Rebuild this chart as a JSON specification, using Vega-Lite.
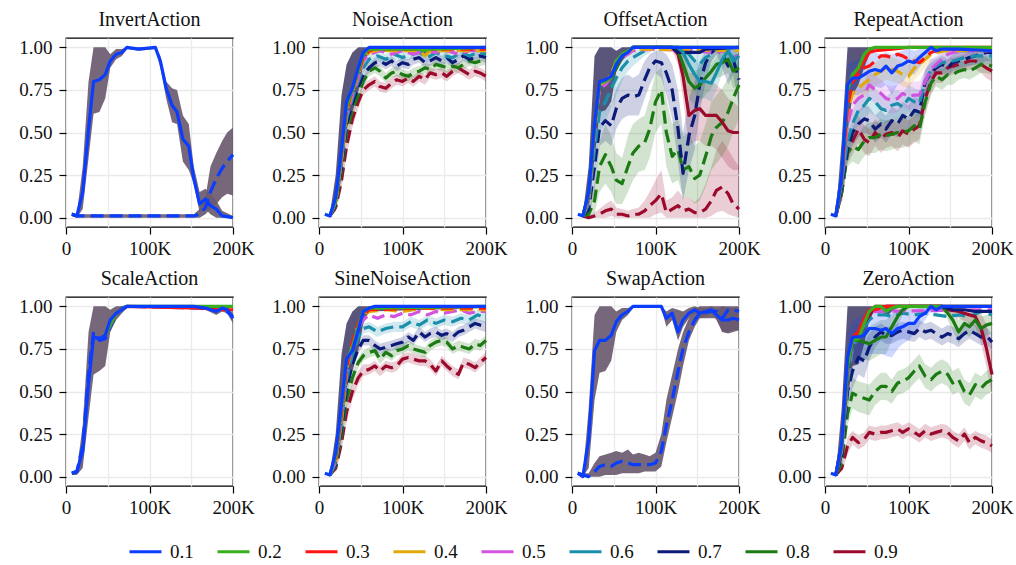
{
"$schema":"https://vega.github.io/schema/vega-lite/v6.json",
"padding":{"left":18,"top":9,"right":5,"bottom":5},
"data":{"values":[
{"p":"Invert","s":0.1,"m":"d","x":7,"y":2,"l":1,"h":3},
{"p":"Invert","s":0.1,"m":"d","x":13,"y":1,"l":0,"h":2},
{"p":"Invert","s":0.1,"m":"d","x":153,"y":1,"l":0,"h":2},
{"p":"Invert","s":0.1,"m":"d","x":160,"y":2,"l":0,"h":5},
{"p":"Invert","s":0.1,"m":"d","x":167,"y":6,"l":2,"h":12},
{"p":"Invert","s":0.1,"m":"d","x":173,"y":15,"l":5,"h":30},
{"p":"Invert","s":0.1,"m":"d","x":180,"y":23,"l":8,"h":38},
{"p":"Invert","s":0.1,"m":"d","x":187,"y":29,"l":12,"h":45},
{"p":"Invert","s":0.1,"m":"d","x":193,"y":33,"l":14,"h":50},
{"p":"Invert","s":0.1,"m":"d","x":200,"y":37,"l":13,"h":53},
{"p":"Invert","s":0.1,"m":"s","x":7,"y":2,"l":1,"h":3},
{"p":"Invert","s":0.1,"m":"s","x":13,"y":1,"l":0,"h":2},
{"p":"Invert","s":0.1,"m":"s","x":20,"y":15,"l":5,"h":30},
{"p":"Invert","s":0.1,"m":"s","x":27,"y":52,"l":35,"h":80},
{"p":"Invert","s":0.1,"m":"s","x":33,"y":80,"l":61,"h":100},
{"p":"Invert","s":0.1,"m":"s","x":40,"y":81,"l":62,"h":100},
{"p":"Invert","s":0.1,"m":"s","x":47,"y":84,"l":70,"h":100},
{"p":"Invert","s":0.1,"m":"s","x":53,"y":92,"l":88,"h":96},
{"p":"Invert","s":0.1,"m":"s","x":60,"y":96,"l":93,"h":99},
{"p":"Invert","s":0.1,"m":"s","x":67,"y":97,"l":95,"h":99},
{"p":"Invert","s":0.1,"m":"s","x":73,"y":100,"l":99,"h":100},
{"p":"Invert","s":0.1,"m":"s","x":87,"y":99,"l":98,"h":100},
{"p":"Invert","s":0.1,"m":"s","x":107,"y":100,"l":99,"h":100},
{"p":"Invert","s":0.1,"m":"s","x":113,"y":92,"l":88,"h":95},
{"p":"Invert","s":0.1,"m":"s","x":120,"y":76,"l":70,"h":80},
{"p":"Invert","s":0.1,"m":"s","x":127,"y":66,"l":56,"h":76},
{"p":"Invert","s":0.1,"m":"s","x":133,"y":62,"l":55,"h":75},
{"p":"Invert","s":0.1,"m":"s","x":140,"y":46,"l":33,"h":60},
{"p":"Invert","s":0.1,"m":"s","x":147,"y":42,"l":28,"h":55},
{"p":"Invert","s":0.1,"m":"s","x":153,"y":23,"l":20,"h":30},
{"p":"Invert","s":0.1,"m":"s","x":160,"y":8,"l":3,"h":15},
{"p":"Invert","s":0.1,"m":"s","x":167,"y":11,"l":5,"h":17},
{"p":"Invert","s":0.1,"m":"s","x":173,"y":7,"l":2,"h":14},
{"p":"Invert","s":0.1,"m":"s","x":180,"y":5,"l":0,"h":10},
{"p":"Invert","s":0.1,"m":"s","x":187,"y":1,"l":0,"h":4},
{"p":"Invert","s":0.1,"m":"s","x":200,"y":0,"l":0,"h":1},

{"p":"Swap","s":0.1,"m":"d","x":7,"y":2,"l":1,"h":3},
{"p":"Swap","s":0.1,"m":"d","x":13,"y":1,"l":0,"h":2},
{"p":"Swap","s":0.1,"m":"d","x":20,"y":0,"l":0,"h":2},
{"p":"Swap","s":0.1,"m":"d","x":27,"y":3,"l":0,"h":8},
{"p":"Swap","s":0.1,"m":"d","x":33,"y":6,"l":0,"h":12},
{"p":"Swap","s":0.1,"m":"d","x":40,"y":7,"l":1,"h":13},
{"p":"Swap","s":0.1,"m":"d","x":47,"y":6,"l":1,"h":14},
{"p":"Swap","s":0.1,"m":"d","x":53,"y":8,"l":1,"h":15},
{"p":"Swap","s":0.1,"m":"d","x":60,"y":9,"l":2,"h":14},
{"p":"Swap","s":0.1,"m":"d","x":67,"y":8,"l":2,"h":16},
{"p":"Swap","s":0.1,"m":"d","x":73,"y":7,"l":2,"h":13},
{"p":"Swap","s":0.1,"m":"d","x":80,"y":7,"l":2,"h":14},
{"p":"Swap","s":0.1,"m":"d","x":87,"y":7,"l":3,"h":13},
{"p":"Swap","s":0.1,"m":"d","x":93,"y":7,"l":3,"h":12},
{"p":"Swap","s":0.1,"m":"d","x":100,"y":8,"l":3,"h":14},
{"p":"Swap","s":0.1,"m":"d","x":107,"y":15,"l":6,"h":25},
{"p":"Swap","s":0.1,"m":"d","x":113,"y":30,"l":20,"h":45},
{"p":"Swap","s":0.1,"m":"d","x":120,"y":45,"l":35,"h":60},
{"p":"Swap","s":0.1,"m":"d","x":127,"y":62,"l":50,"h":75},
{"p":"Swap","s":0.1,"m":"d","x":133,"y":75,"l":65,"h":85},
{"p":"Swap","s":0.1,"m":"d","x":140,"y":85,"l":80,"h":93},
{"p":"Swap","s":0.1,"m":"d","x":147,"y":92,"l":88,"h":98},
{"p":"Swap","s":0.1,"m":"d","x":153,"y":96,"l":93,"h":100},
{"p":"Swap","s":0.1,"m":"d","x":167,"y":97,"l":93,"h":100},
{"p":"Swap","s":0.1,"m":"d","x":173,"y":97,"l":93,"h":100},
{"p":"Swap","s":0.1,"m":"d","x":180,"y":93,"l":85,"h":100},
{"p":"Swap","s":0.1,"m":"d","x":187,"y":98,"l":85,"h":100},
{"p":"Swap","s":0.1,"m":"d","x":193,"y":98,"l":86,"h":100},
{"p":"Swap","s":0.1,"m":"d","x":200,"y":97,"l":86,"h":100},
{"p":"Swap","s":0.1,"m":"s","x":7,"y":2,"l":1,"h":3},
{"p":"Swap","s":0.1,"m":"s","x":13,"y":0,"l":0,"h":1},
{"p":"Swap","s":0.1,"m":"s","x":20,"y":22,"l":5,"h":40},
{"p":"Swap","s":0.1,"m":"s","x":27,"y":74,"l":45,"h":95},
{"p":"Swap","s":0.1,"m":"s","x":33,"y":80,"l":61,"h":100},
{"p":"Swap","s":0.1,"m":"s","x":40,"y":80,"l":62,"h":100},
{"p":"Swap","s":0.1,"m":"s","x":47,"y":83,"l":68,"h":100},
{"p":"Swap","s":0.1,"m":"s","x":53,"y":91,"l":85,"h":97},
{"p":"Swap","s":0.1,"m":"s","x":60,"y":95,"l":92,"h":99},
{"p":"Swap","s":0.1,"m":"s","x":67,"y":97,"l":95,"h":99},
{"p":"Swap","s":0.1,"m":"s","x":73,"y":100,"l":99,"h":100},
{"p":"Swap","s":0.1,"m":"s","x":107,"y":100,"l":99,"h":100},
{"p":"Swap","s":0.1,"m":"s","x":113,"y":93,"l":88,"h":97},
{"p":"Swap","s":0.1,"m":"s","x":120,"y":96,"l":92,"h":99},
{"p":"Swap","s":0.1,"m":"s","x":127,"y":85,"l":80,"h":98},
{"p":"Swap","s":0.1,"m":"s","x":133,"y":92,"l":88,"h":97},
{"p":"Swap","s":0.1,"m":"s","x":140,"y":96,"l":93,"h":99},
{"p":"Swap","s":0.1,"m":"s","x":147,"y":98,"l":96,"h":100},
{"p":"Swap","s":0.1,"m":"s","x":153,"y":96,"l":93,"h":99},
{"p":"Swap","s":0.1,"m":"s","x":160,"y":97,"l":94,"h":99},
{"p":"Swap","s":0.1,"m":"s","x":167,"y":98,"l":96,"h":100},
{"p":"Swap","s":0.1,"m":"s","x":173,"y":95,"l":92,"h":98},
{"p":"Swap","s":0.1,"m":"s","x":180,"y":92,"l":85,"h":100},
{"p":"Swap","s":0.1,"m":"s","x":187,"y":92,"l":84,"h":99},
{"p":"Swap","s":0.1,"m":"s","x":193,"y":93,"l":85,"h":99},
{"p":"Swap","s":0.1,"m":"s","x":200,"y":92,"l":86,"h":99},

{"p":"Scale","s":0.3,"m":"s","x":47,"y":83},
{"p":"Scale","s":0.3,"m":"s","x":60,"y":96},
{"p":"Scale","s":0.3,"m":"s","x":73,"y":100},
{"p":"Scale","s":0.3,"m":"s","x":160,"y":99},
{"p":"Scale","s":0.3,"m":"s","x":187,"y":98},
{"p":"Scale","s":0.3,"m":"s","x":200,"y":98},
{"p":"Scale","s":0.2,"m":"s","x":47,"y":83},
{"p":"Scale","s":0.2,"m":"s","x":60,"y":96},
{"p":"Scale","s":0.2,"m":"s","x":73,"y":100},
{"p":"Scale","s":0.2,"m":"s","x":200,"y":100},
{"p":"Scale","s":0.1,"m":"d","x":7,"y":2},
{"p":"Scale","s":0.1,"m":"d","x":13,"y":3},
{"p":"Scale","s":0.1,"m":"d","x":20,"y":18},
{"p":"Scale","s":0.1,"m":"d","x":27,"y":60},
{"p":"Scale","s":0.1,"m":"d","x":33,"y":85},
{"p":"Scale","s":0.1,"m":"d","x":40,"y":80},
{"p":"Scale","s":0.1,"m":"d","x":47,"y":81},
{"p":"Scale","s":0.1,"m":"d","x":53,"y":88},
{"p":"Scale","s":0.1,"m":"d","x":60,"y":95},
{"p":"Scale","s":0.1,"m":"d","x":67,"y":99},
{"p":"Scale","s":0.1,"m":"d","x":73,"y":100},
{"p":"Scale","s":0.1,"m":"d","x":160,"y":99},
{"p":"Scale","s":0.1,"m":"d","x":173,"y":98},
{"p":"Scale","s":0.1,"m":"d","x":187,"y":99},
{"p":"Scale","s":0.1,"m":"d","x":200,"y":94},
{"p":"Scale","s":0.1,"m":"s","x":7,"y":2,"l":1,"h":3},
{"p":"Scale","s":0.1,"m":"s","x":13,"y":3,"l":1,"h":4},
{"p":"Scale","s":0.1,"m":"s","x":20,"y":15,"l":5,"h":30},
{"p":"Scale","s":0.1,"m":"s","x":27,"y":55,"l":35,"h":85},
{"p":"Scale","s":0.1,"m":"s","x":33,"y":82,"l":60,"h":100},
{"p":"Scale","s":0.1,"m":"s","x":40,"y":81,"l":62,"h":100},
{"p":"Scale","s":0.1,"m":"s","x":47,"y":83,"l":65,"h":100},
{"p":"Scale","s":0.1,"m":"s","x":53,"y":92,"l":85,"h":98},
{"p":"Scale","s":0.1,"m":"s","x":60,"y":96,"l":92,"h":100},
{"p":"Scale","s":0.1,"m":"s","x":67,"y":98,"l":96,"h":100},
{"p":"Scale","s":0.1,"m":"s","x":73,"y":100,"l":99,"h":100},
{"p":"Scale","s":0.1,"m":"s","x":153,"y":100,"l":99,"h":100},
{"p":"Scale","s":0.1,"m":"s","x":167,"y":99,"l":98,"h":100},
{"p":"Scale","s":0.1,"m":"s","x":180,"y":97,"l":95,"h":99},
{"p":"Scale","s":0.1,"m":"s","x":187,"y":99,"l":97,"h":100},
{"p":"Scale","s":0.1,"m":"s","x":193,"y":98,"l":96,"h":100},
{"p":"Scale","s":0.1,"m":"s","x":200,"y":93,"l":90,"h":96},

{"p":"Noise","s":0.9,"m":"d","x":13,"y":1},
{"p":"Noise","s":0.9,"m":"d","x":20,"y":6,"l":3,"h":9},
{"p":"Noise","s":0.9,"m":"d","x":27,"y":22,"l":17,"h":27},
{"p":"Noise","s":0.9,"m":"d","x":33,"y":42,"l":36,"h":48},
{"p":"Noise","s":0.9,"m":"d","x":40,"y":58,"l":53,"h":63},
{"p":"Noise","s":0.9,"m":"d","x":47,"y":68,"l":64,"h":72},
{"p":"Noise","s":0.9,"m":"d","x":53,"y":75,"l":72,"h":79},
{"p":"Noise","s":0.9,"m":"d","x":60,"y":78,"l":75,"h":81},
{"p":"Noise","s":0.9,"m":"d","x":67,"y":80,"l":77,"h":83},
{"p":"Noise","s":0.9,"m":"d","x":73,"y":77,"l":74,"h":80},
{"p":"Noise","s":0.9,"m":"d","x":80,"y":76,"l":73,"h":79},
{"p":"Noise","s":0.9,"m":"d","x":87,"y":79,"l":76,"h":82},
{"p":"Noise","s":0.9,"m":"d","x":93,"y":81,"l":78,"h":84},
{"p":"Noise","s":0.9,"m":"d","x":100,"y":80,"l":77,"h":83},
{"p":"Noise","s":0.9,"m":"d","x":107,"y":82,"l":79,"h":85},
{"p":"Noise","s":0.9,"m":"d","x":113,"y":80,"l":77,"h":83},
{"p":"Noise","s":0.9,"m":"d","x":120,"y":83,"l":80,"h":86},
{"p":"Noise","s":0.9,"m":"d","x":127,"y":81,"l":78,"h":84},
{"p":"Noise","s":0.9,"m":"d","x":133,"y":85,"l":82,"h":88},
{"p":"Noise","s":0.9,"m":"d","x":140,"y":84,"l":81,"h":87},
{"p":"Noise","s":0.9,"m":"d","x":147,"y":85,"l":82,"h":88},
{"p":"Noise","s":0.9,"m":"d","x":153,"y":83,"l":80,"h":86},
{"p":"Noise","s":0.9,"m":"d","x":160,"y":86,"l":83,"h":89},
{"p":"Noise","s":0.9,"m":"d","x":167,"y":88,"l":85,"h":91},
{"p":"Noise","s":0.9,"m":"d","x":173,"y":86,"l":83,"h":89},
{"p":"Noise","s":0.9,"m":"d","x":180,"y":84,"l":81,"h":87},
{"p":"Noise","s":0.9,"m":"d","x":187,"y":86,"l":83,"h":89},
{"p":"Noise","s":0.9,"m":"d","x":193,"y":85,"l":82,"h":88},
{"p":"Noise","s":0.9,"m":"d","x":200,"y":83,"l":80,"h":86},
{"p":"Noise","s":0.8,"m":"d","x":13,"y":1},
{"p":"Noise","s":0.8,"m":"d","x":20,"y":7,"l":4,"h":10},
{"p":"Noise","s":0.8,"m":"d","x":27,"y":27,"l":22,"h":32},
{"p":"Noise","s":0.8,"m":"d","x":33,"y":50,"l":45,"h":55},
{"p":"Noise","s":0.8,"m":"d","x":40,"y":63,"l":59,"h":67},
{"p":"Noise","s":0.8,"m":"d","x":47,"y":72,"l":69,"h":75},
{"p":"Noise","s":0.8,"m":"d","x":53,"y":80,"l":77,"h":83},
{"p":"Noise","s":0.8,"m":"d","x":60,"y":86,"l":83,"h":89},
{"p":"Noise","s":0.8,"m":"d","x":67,"y":88,"l":85,"h":91},
{"p":"Noise","s":0.8,"m":"d","x":73,"y":86,"l":83,"h":89},
{"p":"Noise","s":0.8,"m":"d","x":80,"y":82,"l":79,"h":85},
{"p":"Noise","s":0.8,"m":"d","x":87,"y":85,"l":82,"h":88},
{"p":"Noise","s":0.8,"m":"d","x":93,"y":86,"l":83,"h":89},
{"p":"Noise","s":0.8,"m":"d","x":100,"y":84,"l":81,"h":87},
{"p":"Noise","s":0.8,"m":"d","x":107,"y":83,"l":80,"h":86},
{"p":"Noise","s":0.8,"m":"d","x":113,"y":85,"l":82,"h":88},
{"p":"Noise","s":0.8,"m":"d","x":120,"y":86,"l":83,"h":89},
{"p":"Noise","s":0.8,"m":"d","x":127,"y":88,"l":85,"h":91},
{"p":"Noise","s":0.8,"m":"d","x":133,"y":87,"l":84,"h":90},
{"p":"Noise","s":0.8,"m":"d","x":140,"y":90,"l":87,"h":93},
{"p":"Noise","s":0.8,"m":"d","x":147,"y":89,"l":86,"h":92},
{"p":"Noise","s":0.8,"m":"d","x":153,"y":88,"l":85,"h":91},
{"p":"Noise","s":0.8,"m":"d","x":160,"y":89,"l":86,"h":92},
{"p":"Noise","s":0.8,"m":"d","x":167,"y":88,"l":85,"h":91},
{"p":"Noise","s":0.8,"m":"d","x":173,"y":90,"l":87,"h":93},
{"p":"Noise","s":0.8,"m":"d","x":180,"y":92,"l":89,"h":95},
{"p":"Noise","s":0.8,"m":"d","x":187,"y":91,"l":88,"h":94},
{"p":"Noise","s":0.8,"m":"d","x":193,"y":92,"l":89,"h":95},
{"p":"Noise","s":0.8,"m":"d","x":200,"y":93,"l":90,"h":96},
{"p":"Noise","s":0.7,"m":"d","x":13,"y":1},
{"p":"Noise","s":0.7,"m":"d","x":20,"y":8,"l":5,"h":11},
{"p":"Noise","s":0.7,"m":"d","x":27,"y":30,"l":25,"h":35},
{"p":"Noise","s":0.7,"m":"d","x":33,"y":55,"l":50,"h":60},
{"p":"Noise","s":0.7,"m":"d","x":40,"y":67,"l":63,"h":71},
{"p":"Noise","s":0.7,"m":"d","x":47,"y":77,"l":74,"h":80},
{"p":"Noise","s":0.7,"m":"d","x":53,"y":84,"l":81,"h":87},
{"p":"Noise","s":0.7,"m":"d","x":60,"y":88,"l":85,"h":91},
{"p":"Noise","s":0.7,"m":"d","x":67,"y":91,"l":88,"h":94},
{"p":"Noise","s":0.7,"m":"d","x":73,"y":92,"l":89,"h":95},
{"p":"Noise","s":0.7,"m":"d","x":80,"y":90,"l":87,"h":93},
{"p":"Noise","s":0.7,"m":"d","x":87,"y":92,"l":89,"h":95},
{"p":"Noise","s":0.7,"m":"d","x":93,"y":89,"l":86,"h":92},
{"p":"Noise","s":0.7,"m":"d","x":100,"y":91,"l":88,"h":94},
{"p":"Noise","s":0.7,"m":"d","x":107,"y":90,"l":87,"h":93},
{"p":"Noise","s":0.7,"m":"d","x":113,"y":93,"l":90,"h":96},
{"p":"Noise","s":0.7,"m":"d","x":120,"y":94,"l":91,"h":97},
{"p":"Noise","s":0.7,"m":"d","x":127,"y":91,"l":88,"h":94},
{"p":"Noise","s":0.7,"m":"d","x":133,"y":92,"l":89,"h":95},
{"p":"Noise","s":0.7,"m":"d","x":140,"y":94,"l":91,"h":97},
{"p":"Noise","s":0.7,"m":"d","x":147,"y":92,"l":89,"h":95},
{"p":"Noise","s":0.7,"m":"d","x":153,"y":94,"l":91,"h":97},
{"p":"Noise","s":0.7,"m":"d","x":160,"y":91,"l":88,"h":94},
{"p":"Noise","s":0.7,"m":"d","x":167,"y":93,"l":90,"h":96},
{"p":"Noise","s":0.7,"m":"d","x":173,"y":95,"l":92,"h":98},
{"p":"Noise","s":0.7,"m":"d","x":180,"y":93,"l":90,"h":96},
{"p":"Noise","s":0.7,"m":"d","x":187,"y":94,"l":91,"h":97},
{"p":"Noise","s":0.7,"m":"d","x":193,"y":95,"l":92,"h":98},
{"p":"Noise","s":0.7,"m":"d","x":200,"y":94,"l":91,"h":97},
{"p":"Noise","s":0.6,"m":"d","x":13,"y":1},
{"p":"Noise","s":0.6,"m":"d","x":20,"y":9,"l":6,"h":12},
{"p":"Noise","s":0.6,"m":"d","x":27,"y":33,"l":28,"h":38},
{"p":"Noise","s":0.6,"m":"d","x":33,"y":58,"l":53,"h":63},
{"p":"Noise","s":0.6,"m":"d","x":40,"y":70,"l":66,"h":74},
{"p":"Noise","s":0.6,"m":"d","x":47,"y":80,"l":77,"h":83},
{"p":"Noise","s":0.6,"m":"d","x":53,"y":88,"l":85,"h":91},
{"p":"Noise","s":0.6,"m":"d","x":60,"y":93,"l":90,"h":96},
{"p":"Noise","s":0.6,"m":"d","x":70,"y":95,"l":92,"h":98},
{"p":"Noise","s":0.6,"m":"d","x":80,"y":93,"l":90,"h":96},
{"p":"Noise","s":0.6,"m":"d","x":90,"y":96,"l":93,"h":99},
{"p":"Noise","s":0.6,"m":"d","x":100,"y":94,"l":91,"h":97},
{"p":"Noise","s":0.6,"m":"d","x":110,"y":96,"l":93,"h":99},
{"p":"Noise","s":0.6,"m":"d","x":120,"y":97,"l":94,"h":100},
{"p":"Noise","s":0.6,"m":"d","x":130,"y":94,"l":91,"h":97},
{"p":"Noise","s":0.6,"m":"d","x":140,"y":97,"l":94,"h":100},
{"p":"Noise","s":0.6,"m":"d","x":150,"y":95,"l":92,"h":98},
{"p":"Noise","s":0.6,"m":"d","x":160,"y":94,"l":91,"h":97},
{"p":"Noise","s":0.6,"m":"d","x":170,"y":97,"l":94,"h":100},
{"p":"Noise","s":0.6,"m":"d","x":180,"y":95,"l":92,"h":98},
{"p":"Noise","s":0.6,"m":"d","x":190,"y":97,"l":94,"h":100},
{"p":"Noise","s":0.6,"m":"d","x":200,"y":96,"l":93,"h":99},
{"p":"Noise","s":0.5,"m":"d","x":13,"y":1},
{"p":"Noise","s":0.5,"m":"d","x":20,"y":9},
{"p":"Noise","s":0.5,"m":"d","x":27,"y":34},
{"p":"Noise","s":0.5,"m":"d","x":33,"y":60},
{"p":"Noise","s":0.5,"m":"d","x":40,"y":72},
{"p":"Noise","s":0.5,"m":"d","x":47,"y":82},
{"p":"Noise","s":0.5,"m":"d","x":53,"y":92},
{"p":"Noise","s":0.5,"m":"d","x":60,"y":96},
{"p":"Noise","s":0.5,"m":"d","x":73,"y":98},
{"p":"Noise","s":0.5,"m":"d","x":87,"y":96},
{"p":"Noise","s":0.5,"m":"d","x":100,"y":98},
{"p":"Noise","s":0.5,"m":"d","x":113,"y":96},
{"p":"Noise","s":0.5,"m":"d","x":127,"y":98},
{"p":"Noise","s":0.5,"m":"d","x":140,"y":97},
{"p":"Noise","s":0.5,"m":"d","x":153,"y":98},
{"p":"Noise","s":0.5,"m":"d","x":167,"y":96},
{"p":"Noise","s":0.5,"m":"d","x":180,"y":98},
{"p":"Noise","s":0.5,"m":"d","x":200,"y":98},
{"p":"Noise","s":0.4,"m":"d","x":20,"y":9},
{"p":"Noise","s":0.4,"m":"d","x":27,"y":35},
{"p":"Noise","s":0.4,"m":"d","x":33,"y":62},
{"p":"Noise","s":0.4,"m":"d","x":40,"y":74},
{"p":"Noise","s":0.4,"m":"d","x":47,"y":84},
{"p":"Noise","s":0.4,"m":"d","x":53,"y":93},
{"p":"Noise","s":0.4,"m":"d","x":60,"y":97},
{"p":"Noise","s":0.4,"m":"d","x":67,"y":98},
{"p":"Noise","s":0.4,"m":"d","x":120,"y":98},
{"p":"Noise","s":0.4,"m":"d","x":127,"y":95},
{"p":"Noise","s":0.4,"m":"d","x":133,"y":98},
{"p":"Noise","s":0.4,"m":"d","x":200,"y":98},
{"p":"Noise","s":0.3,"m":"d","x":20,"y":10},
{"p":"Noise","s":0.3,"m":"d","x":27,"y":37},
{"p":"Noise","s":0.3,"m":"d","x":33,"y":63},
{"p":"Noise","s":0.3,"m":"d","x":40,"y":75},
{"p":"Noise","s":0.3,"m":"d","x":47,"y":85},
{"p":"Noise","s":0.3,"m":"d","x":53,"y":94},
{"p":"Noise","s":0.3,"m":"d","x":60,"y":98},
{"p":"Noise","s":0.3,"m":"d","x":67,"y":99},
{"p":"Noise","s":0.3,"m":"d","x":200,"y":99},
{"p":"Noise","s":0.2,"m":"s","x":13,"y":1,"l":0,"h":2},
{"p":"Noise","s":0.2,"m":"s","x":20,"y":10,"l":4,"h":25},
{"p":"Noise","s":0.2,"m":"s","x":27,"y":38,"l":25,"h":72},
{"p":"Noise","s":0.2,"m":"s","x":33,"y":65,"l":52,"h":90},
{"p":"Noise","s":0.2,"m":"s","x":40,"y":75,"l":62,"h":97},
{"p":"Noise","s":0.2,"m":"s","x":47,"y":86,"l":74,"h":100},
{"p":"Noise","s":0.2,"m":"s","x":53,"y":96,"l":90,"h":100},
{"p":"Noise","s":0.2,"m":"s","x":60,"y":99,"l":97,"h":100},
{"p":"Noise","s":0.2,"m":"s","x":120,"y":99,"l":98,"h":100},
{"p":"Noise","s":0.2,"m":"s","x":127,"y":98,"l":96,"h":100},
{"p":"Noise","s":0.2,"m":"s","x":133,"y":99,"l":98,"h":100},
{"p":"Noise","s":0.2,"m":"s","x":200,"y":100,"l":99,"h":100},
{"p":"Noise","s":0.1,"m":"s","x":7,"y":2},
{"p":"Noise","s":0.1,"m":"s","x":13,"y":1},
{"p":"Noise","s":0.1,"m":"s","x":20,"y":12},
{"p":"Noise","s":0.1,"m":"s","x":27,"y":40},
{"p":"Noise","s":0.1,"m":"s","x":33,"y":68},
{"p":"Noise","s":0.1,"m":"s","x":40,"y":76},
{"p":"Noise","s":0.1,"m":"s","x":47,"y":88},
{"p":"Noise","s":0.1,"m":"s","x":53,"y":97},
{"p":"Noise","s":0.1,"m":"s","x":60,"y":100},
{"p":"Noise","s":0.1,"m":"s","x":200,"y":100},

{"p":"SineNoise","s":0.9,"m":"d","x":13,"y":1},
{"p":"SineNoise","s":0.9,"m":"d","x":20,"y":5,"l":2,"h":8},
{"p":"SineNoise","s":0.9,"m":"d","x":27,"y":20,"l":15,"h":25},
{"p":"SineNoise","s":0.9,"m":"d","x":33,"y":38,"l":32,"h":44},
{"p":"SineNoise","s":0.9,"m":"d","x":40,"y":50,"l":45,"h":55},
{"p":"SineNoise","s":0.9,"m":"d","x":47,"y":58,"l":54,"h":62},
{"p":"SineNoise","s":0.9,"m":"d","x":53,"y":62,"l":59,"h":66},
{"p":"SineNoise","s":0.9,"m":"d","x":60,"y":63,"l":60,"h":66},
{"p":"SineNoise","s":0.9,"m":"d","x":67,"y":65,"l":62,"h":68},
{"p":"SineNoise","s":0.9,"m":"d","x":73,"y":62,"l":59,"h":65},
{"p":"SineNoise","s":0.9,"m":"d","x":80,"y":65,"l":62,"h":68},
{"p":"SineNoise","s":0.9,"m":"d","x":87,"y":64,"l":61,"h":67},
{"p":"SineNoise","s":0.9,"m":"d","x":93,"y":65,"l":62,"h":68},
{"p":"SineNoise","s":0.9,"m":"d","x":100,"y":69,"l":66,"h":72},
{"p":"SineNoise","s":0.9,"m":"d","x":107,"y":70,"l":67,"h":73},
{"p":"SineNoise","s":0.9,"m":"d","x":113,"y":69,"l":66,"h":72},
{"p":"SineNoise","s":0.9,"m":"d","x":120,"y":68,"l":65,"h":71},
{"p":"SineNoise","s":0.9,"m":"d","x":127,"y":68,"l":65,"h":71},
{"p":"SineNoise","s":0.9,"m":"d","x":133,"y":66,"l":63,"h":69},
{"p":"SineNoise","s":0.9,"m":"d","x":140,"y":62,"l":59,"h":65},
{"p":"SineNoise","s":0.9,"m":"d","x":147,"y":68,"l":65,"h":71},
{"p":"SineNoise","s":0.9,"m":"d","x":153,"y":65,"l":62,"h":68},
{"p":"SineNoise","s":0.9,"m":"d","x":160,"y":62,"l":59,"h":65},
{"p":"SineNoise","s":0.9,"m":"d","x":167,"y":60,"l":57,"h":63},
{"p":"SineNoise","s":0.9,"m":"d","x":173,"y":67,"l":64,"h":70},
{"p":"SineNoise","s":0.9,"m":"d","x":180,"y":66,"l":63,"h":69},
{"p":"SineNoise","s":0.9,"m":"d","x":187,"y":64,"l":61,"h":67},
{"p":"SineNoise","s":0.9,"m":"d","x":193,"y":67,"l":64,"h":70},
{"p":"SineNoise","s":0.9,"m":"d","x":200,"y":70,"l":67,"h":73},
{"p":"SineNoise","s":0.8,"m":"d","x":13,"y":1},
{"p":"SineNoise","s":0.8,"m":"d","x":20,"y":6,"l":3,"h":9},
{"p":"SineNoise","s":0.8,"m":"d","x":27,"y":24,"l":19,"h":29},
{"p":"SineNoise","s":0.8,"m":"d","x":33,"y":45,"l":40,"h":50},
{"p":"SineNoise","s":0.8,"m":"d","x":40,"y":58,"l":54,"h":62},
{"p":"SineNoise","s":0.8,"m":"d","x":47,"y":67,"l":64,"h":70},
{"p":"SineNoise","s":0.8,"m":"d","x":53,"y":71,"l":68,"h":74},
{"p":"SineNoise","s":0.8,"m":"d","x":60,"y":73,"l":70,"h":76},
{"p":"SineNoise","s":0.8,"m":"d","x":67,"y":74,"l":71,"h":77},
{"p":"SineNoise","s":0.8,"m":"d","x":73,"y":69,"l":66,"h":72},
{"p":"SineNoise","s":0.8,"m":"d","x":80,"y":73,"l":70,"h":76},
{"p":"SineNoise","s":0.8,"m":"d","x":87,"y":71,"l":68,"h":74},
{"p":"SineNoise","s":0.8,"m":"d","x":93,"y":74,"l":71,"h":77},
{"p":"SineNoise","s":0.8,"m":"d","x":100,"y":75,"l":72,"h":78},
{"p":"SineNoise","s":0.8,"m":"d","x":107,"y":77,"l":74,"h":80},
{"p":"SineNoise","s":0.8,"m":"d","x":113,"y":75,"l":72,"h":78},
{"p":"SineNoise","s":0.8,"m":"d","x":120,"y":74,"l":71,"h":77},
{"p":"SineNoise","s":0.8,"m":"d","x":127,"y":73,"l":70,"h":76},
{"p":"SineNoise","s":0.8,"m":"d","x":133,"y":77,"l":74,"h":80},
{"p":"SineNoise","s":0.8,"m":"d","x":140,"y":79,"l":76,"h":82},
{"p":"SineNoise","s":0.8,"m":"d","x":147,"y":80,"l":77,"h":83},
{"p":"SineNoise","s":0.8,"m":"d","x":153,"y":79,"l":76,"h":82},
{"p":"SineNoise","s":0.8,"m":"d","x":160,"y":75,"l":72,"h":78},
{"p":"SineNoise","s":0.8,"m":"d","x":167,"y":77,"l":74,"h":80},
{"p":"SineNoise","s":0.8,"m":"d","x":173,"y":76,"l":73,"h":79},
{"p":"SineNoise","s":0.8,"m":"d","x":180,"y":75,"l":72,"h":78},
{"p":"SineNoise","s":0.8,"m":"d","x":187,"y":78,"l":75,"h":81},
{"p":"SineNoise","s":0.8,"m":"d","x":193,"y":77,"l":74,"h":80},
{"p":"SineNoise","s":0.8,"m":"d","x":200,"y":80,"l":77,"h":83},
{"p":"SineNoise","s":0.7,"m":"d","x":13,"y":1},
{"p":"SineNoise","s":0.7,"m":"d","x":20,"y":7,"l":4,"h":10},
{"p":"SineNoise","s":0.7,"m":"d","x":27,"y":28,"l":23,"h":33},
{"p":"SineNoise","s":0.7,"m":"d","x":33,"y":52,"l":47,"h":57},
{"p":"SineNoise","s":0.7,"m":"d","x":40,"y":66,"l":62,"h":70},
{"p":"SineNoise","s":0.7,"m":"d","x":47,"y":75,"l":72,"h":78},
{"p":"SineNoise","s":0.7,"m":"d","x":53,"y":80,"l":77,"h":83},
{"p":"SineNoise","s":0.7,"m":"d","x":60,"y":80,"l":77,"h":83},
{"p":"SineNoise","s":0.7,"m":"d","x":67,"y":77,"l":74,"h":80},
{"p":"SineNoise","s":0.7,"m":"d","x":73,"y":75,"l":72,"h":78},
{"p":"SineNoise","s":0.7,"m":"d","x":80,"y":76,"l":73,"h":79},
{"p":"SineNoise","s":0.7,"m":"d","x":87,"y":77,"l":74,"h":80},
{"p":"SineNoise","s":0.7,"m":"d","x":93,"y":78,"l":75,"h":81},
{"p":"SineNoise","s":0.7,"m":"d","x":100,"y":79,"l":76,"h":82},
{"p":"SineNoise","s":0.7,"m":"d","x":107,"y":82,"l":79,"h":85},
{"p":"SineNoise","s":0.7,"m":"d","x":113,"y":80,"l":77,"h":83},
{"p":"SineNoise","s":0.7,"m":"d","x":120,"y":85,"l":82,"h":88},
{"p":"SineNoise","s":0.7,"m":"d","x":127,"y":82,"l":79,"h":85},
{"p":"SineNoise","s":0.7,"m":"d","x":133,"y":84,"l":81,"h":87},
{"p":"SineNoise","s":0.7,"m":"d","x":140,"y":85,"l":82,"h":88},
{"p":"SineNoise","s":0.7,"m":"d","x":147,"y":83,"l":80,"h":86},
{"p":"SineNoise","s":0.7,"m":"d","x":153,"y":84,"l":81,"h":87},
{"p":"SineNoise","s":0.7,"m":"d","x":160,"y":82,"l":79,"h":85},
{"p":"SineNoise","s":0.7,"m":"d","x":167,"y":85,"l":82,"h":88},
{"p":"SineNoise","s":0.7,"m":"d","x":173,"y":86,"l":83,"h":89},
{"p":"SineNoise","s":0.7,"m":"d","x":180,"y":88,"l":85,"h":91},
{"p":"SineNoise","s":0.7,"m":"d","x":187,"y":90,"l":87,"h":93},
{"p":"SineNoise","s":0.7,"m":"d","x":193,"y":89,"l":86,"h":92},
{"p":"SineNoise","s":0.7,"m":"d","x":200,"y":88,"l":85,"h":91},
{"p":"SineNoise","s":0.6,"m":"d","x":13,"y":1},
{"p":"SineNoise","s":0.6,"m":"d","x":20,"y":8,"l":5,"h":11},
{"p":"SineNoise","s":0.6,"m":"d","x":27,"y":31,"l":26,"h":36},
{"p":"SineNoise","s":0.6,"m":"d","x":33,"y":57,"l":52,"h":62},
{"p":"SineNoise","s":0.6,"m":"d","x":40,"y":72,"l":68,"h":76},
{"p":"SineNoise","s":0.6,"m":"d","x":47,"y":82,"l":79,"h":85},
{"p":"SineNoise","s":0.6,"m":"d","x":53,"y":87,"l":84,"h":90},
{"p":"SineNoise","s":0.6,"m":"d","x":60,"y":88,"l":85,"h":91},
{"p":"SineNoise","s":0.6,"m":"d","x":70,"y":85,"l":82,"h":88},
{"p":"SineNoise","s":0.6,"m":"d","x":80,"y":87,"l":84,"h":90},
{"p":"SineNoise","s":0.6,"m":"d","x":90,"y":88,"l":85,"h":91},
{"p":"SineNoise","s":0.6,"m":"d","x":100,"y":88,"l":85,"h":91},
{"p":"SineNoise","s":0.6,"m":"d","x":110,"y":91,"l":88,"h":94},
{"p":"SineNoise","s":0.6,"m":"d","x":120,"y":89,"l":86,"h":92},
{"p":"SineNoise","s":0.6,"m":"d","x":130,"y":92,"l":89,"h":95},
{"p":"SineNoise","s":0.6,"m":"d","x":140,"y":90,"l":87,"h":93},
{"p":"SineNoise","s":0.6,"m":"d","x":150,"y":92,"l":89,"h":95},
{"p":"SineNoise","s":0.6,"m":"d","x":160,"y":91,"l":88,"h":94},
{"p":"SineNoise","s":0.6,"m":"d","x":170,"y":93,"l":90,"h":96},
{"p":"SineNoise","s":0.6,"m":"d","x":180,"y":92,"l":89,"h":95},
{"p":"SineNoise","s":0.6,"m":"d","x":190,"y":95,"l":92,"h":98},
{"p":"SineNoise","s":0.6,"m":"d","x":200,"y":93,"l":90,"h":96},
{"p":"SineNoise","s":0.5,"m":"d","x":13,"y":1},
{"p":"SineNoise","s":0.5,"m":"d","x":20,"y":9},
{"p":"SineNoise","s":0.5,"m":"d","x":27,"y":34},
{"p":"SineNoise","s":0.5,"m":"d","x":33,"y":62},
{"p":"SineNoise","s":0.5,"m":"d","x":40,"y":77},
{"p":"SineNoise","s":0.5,"m":"d","x":47,"y":87},
{"p":"SineNoise","s":0.5,"m":"d","x":53,"y":92},
{"p":"SineNoise","s":0.5,"m":"d","x":60,"y":95},
{"p":"SineNoise","s":0.5,"m":"d","x":70,"y":93},
{"p":"SineNoise","s":0.5,"m":"d","x":80,"y":95},
{"p":"SineNoise","s":0.5,"m":"d","x":90,"y":94},
{"p":"SineNoise","s":0.5,"m":"d","x":100,"y":96},
{"p":"SineNoise","s":0.5,"m":"d","x":110,"y":95},
{"p":"SineNoise","s":0.5,"m":"d","x":120,"y":97},
{"p":"SineNoise","s":0.5,"m":"d","x":130,"y":95},
{"p":"SineNoise","s":0.5,"m":"d","x":140,"y":97},
{"p":"SineNoise","s":0.5,"m":"d","x":150,"y":96},
{"p":"SineNoise","s":0.5,"m":"d","x":160,"y":97},
{"p":"SineNoise","s":0.5,"m":"d","x":170,"y":98},
{"p":"SineNoise","s":0.5,"m":"d","x":180,"y":96},
{"p":"SineNoise","s":0.5,"m":"d","x":190,"y":97},
{"p":"SineNoise","s":0.5,"m":"d","x":200,"y":97},
{"p":"SineNoise","s":0.4,"m":"d","x":20,"y":9},
{"p":"SineNoise","s":0.4,"m":"d","x":27,"y":35},
{"p":"SineNoise","s":0.4,"m":"d","x":33,"y":63},
{"p":"SineNoise","s":0.4,"m":"d","x":40,"y":78},
{"p":"SineNoise","s":0.4,"m":"d","x":47,"y":89},
{"p":"SineNoise","s":0.4,"m":"d","x":53,"y":94},
{"p":"SineNoise","s":0.4,"m":"d","x":60,"y":97},
{"p":"SineNoise","s":0.4,"m":"d","x":80,"y":98},
{"p":"SineNoise","s":0.4,"m":"d","x":100,"y":97},
{"p":"SineNoise","s":0.4,"m":"d","x":127,"y":99},
{"p":"SineNoise","s":0.4,"m":"d","x":150,"y":98},
{"p":"SineNoise","s":0.4,"m":"d","x":200,"y":98},
{"p":"SineNoise","s":0.3,"m":"d","x":20,"y":10},
{"p":"SineNoise","s":0.3,"m":"d","x":27,"y":37},
{"p":"SineNoise","s":0.3,"m":"d","x":33,"y":64},
{"p":"SineNoise","s":0.3,"m":"d","x":40,"y":79},
{"p":"SineNoise","s":0.3,"m":"d","x":47,"y":90},
{"p":"SineNoise","s":0.3,"m":"d","x":53,"y":95},
{"p":"SineNoise","s":0.3,"m":"d","x":60,"y":98},
{"p":"SineNoise","s":0.3,"m":"d","x":127,"y":99},
{"p":"SineNoise","s":0.3,"m":"d","x":200,"y":99},
{"p":"SineNoise","s":0.2,"m":"s","x":13,"y":1,"l":0,"h":2},
{"p":"SineNoise","s":0.2,"m":"s","x":20,"y":12,"l":5,"h":25},
{"p":"SineNoise","s":0.2,"m":"s","x":27,"y":40,"l":25,"h":72},
{"p":"SineNoise","s":0.2,"m":"s","x":33,"y":68,"l":52,"h":90},
{"p":"SineNoise","s":0.2,"m":"s","x":40,"y":76,"l":62,"h":97},
{"p":"SineNoise","s":0.2,"m":"s","x":47,"y":88,"l":74,"h":100},
{"p":"SineNoise","s":0.2,"m":"s","x":53,"y":97,"l":90,"h":100},
{"p":"SineNoise","s":0.2,"m":"s","x":60,"y":99,"l":97,"h":100},
{"p":"SineNoise","s":0.2,"m":"s","x":200,"y":100,"l":99,"h":100},
{"p":"SineNoise","s":0.1,"m":"s","x":7,"y":2},
{"p":"SineNoise","s":0.1,"m":"s","x":13,"y":1},
{"p":"SineNoise","s":0.1,"m":"s","x":20,"y":14},
{"p":"SineNoise","s":0.1,"m":"s","x":27,"y":43},
{"p":"SineNoise","s":0.1,"m":"s","x":33,"y":69},
{"p":"SineNoise","s":0.1,"m":"s","x":40,"y":74},
{"p":"SineNoise","s":0.1,"m":"s","x":47,"y":86},
{"p":"SineNoise","s":0.1,"m":"s","x":53,"y":97},
{"p":"SineNoise","s":0.1,"m":"s","x":60,"y":99},
{"p":"SineNoise","s":0.1,"m":"s","x":67,"y":100},
{"p":"SineNoise","s":0.1,"m":"s","x":200,"y":100},

{"p":"Offset","s":0.9,"m":"s","x":13,"y":1},
{"p":"Offset","s":0.9,"m":"s","x":20,"y":14},
{"p":"Offset","s":0.9,"m":"s","x":27,"y":54},
{"p":"Offset","s":0.9,"m":"s","x":33,"y":79},
{"p":"Offset","s":0.9,"m":"s","x":47,"y":82},
{"p":"Offset","s":0.9,"m":"s","x":60,"y":95},
{"p":"Offset","s":0.9,"m":"s","x":73,"y":100},
{"p":"Offset","s":0.9,"m":"s","x":120,"y":100,"l":98,"h":100},
{"p":"Offset","s":0.9,"m":"s","x":127,"y":96,"l":90,"h":100},
{"p":"Offset","s":0.9,"m":"s","x":133,"y":83,"l":70,"h":98},
{"p":"Offset","s":0.9,"m":"s","x":140,"y":60,"l":42,"h":85},
{"p":"Offset","s":0.9,"m":"s","x":147,"y":63,"l":45,"h":85},
{"p":"Offset","s":0.9,"m":"s","x":153,"y":64,"l":45,"h":82},
{"p":"Offset","s":0.9,"m":"s","x":160,"y":60,"l":42,"h":80},
{"p":"Offset","s":0.9,"m":"s","x":167,"y":60,"l":42,"h":80},
{"p":"Offset","s":0.9,"m":"s","x":173,"y":60,"l":40,"h":78},
{"p":"Offset","s":0.9,"m":"s","x":180,"y":56,"l":35,"h":75},
{"p":"Offset","s":0.9,"m":"s","x":187,"y":51,"l":30,"h":70},
{"p":"Offset","s":0.9,"m":"s","x":193,"y":50,"l":28,"h":68},
{"p":"Offset","s":0.9,"m":"s","x":200,"y":50,"l":28,"h":65},
{"p":"Offset","s":0.9,"m":"d","x":13,"y":1},
{"p":"Offset","s":0.9,"m":"d","x":20,"y":0,"l":0,"h":1},
{"p":"Offset","s":0.9,"m":"d","x":27,"y":1,"l":0,"h":3},
{"p":"Offset","s":0.9,"m":"d","x":33,"y":2,"l":0,"h":5},
{"p":"Offset","s":0.9,"m":"d","x":40,"y":4,"l":0,"h":8},
{"p":"Offset","s":0.9,"m":"d","x":47,"y":5,"l":1,"h":10},
{"p":"Offset","s":0.9,"m":"d","x":53,"y":2,"l":0,"h":6},
{"p":"Offset","s":0.9,"m":"d","x":60,"y":2,"l":0,"h":5},
{"p":"Offset","s":0.9,"m":"d","x":67,"y":1,"l":0,"h":4},
{"p":"Offset","s":0.9,"m":"d","x":73,"y":2,"l":0,"h":5},
{"p":"Offset","s":0.9,"m":"d","x":80,"y":2,"l":0,"h":6},
{"p":"Offset","s":0.9,"m":"d","x":87,"y":4,"l":0,"h":10},
{"p":"Offset","s":0.9,"m":"d","x":93,"y":7,"l":0,"h":15},
{"p":"Offset","s":0.9,"m":"d","x":100,"y":10,"l":2,"h":22},
{"p":"Offset","s":0.9,"m":"d","x":107,"y":14,"l":3,"h":28},
{"p":"Offset","s":0.9,"m":"d","x":113,"y":3,"l":0,"h":10},
{"p":"Offset","s":0.9,"m":"d","x":120,"y":5,"l":0,"h":12},
{"p":"Offset","s":0.9,"m":"d","x":127,"y":7,"l":0,"h":16},
{"p":"Offset","s":0.9,"m":"d","x":133,"y":4,"l":0,"h":12},
{"p":"Offset","s":0.9,"m":"d","x":140,"y":5,"l":0,"h":12},
{"p":"Offset","s":0.9,"m":"d","x":147,"y":3,"l":0,"h":9},
{"p":"Offset","s":0.9,"m":"d","x":153,"y":3,"l":0,"h":12},
{"p":"Offset","s":0.9,"m":"d","x":160,"y":5,"l":0,"h":20},
{"p":"Offset","s":0.9,"m":"d","x":167,"y":10,"l":1,"h":30},
{"p":"Offset","s":0.9,"m":"d","x":173,"y":16,"l":3,"h":40},
{"p":"Offset","s":0.9,"m":"d","x":180,"y":18,"l":4,"h":45},
{"p":"Offset","s":0.9,"m":"d","x":187,"y":14,"l":2,"h":40},
{"p":"Offset","s":0.9,"m":"d","x":193,"y":8,"l":1,"h":35},
{"p":"Offset","s":0.9,"m":"d","x":200,"y":5,"l":0,"h":30},
{"p":"Offset","s":0.8,"m":"s","x":13,"y":1},
{"p":"Offset","s":0.8,"m":"s","x":20,"y":14},
{"p":"Offset","s":0.8,"m":"s","x":27,"y":54},
{"p":"Offset","s":0.8,"m":"s","x":33,"y":79},
{"p":"Offset","s":0.8,"m":"s","x":47,"y":82},
{"p":"Offset","s":0.8,"m":"s","x":60,"y":95},
{"p":"Offset","s":0.8,"m":"s","x":73,"y":100},
{"p":"Offset","s":0.8,"m":"s","x":120,"y":100,"l":98,"h":100},
{"p":"Offset","s":0.8,"m":"s","x":127,"y":98,"l":95,"h":100},
{"p":"Offset","s":0.8,"m":"s","x":133,"y":90,"l":82,"h":97},
{"p":"Offset","s":0.8,"m":"s","x":140,"y":80,"l":70,"h":90},
{"p":"Offset","s":0.8,"m":"s","x":147,"y":76,"l":66,"h":86},
{"p":"Offset","s":0.8,"m":"s","x":153,"y":78,"l":68,"h":88},
{"p":"Offset","s":0.8,"m":"s","x":160,"y":82,"l":72,"h":92},
{"p":"Offset","s":0.8,"m":"s","x":167,"y":86,"l":76,"h":95},
{"p":"Offset","s":0.8,"m":"s","x":173,"y":90,"l":82,"h":97},
{"p":"Offset","s":0.8,"m":"s","x":180,"y":91,"l":83,"h":98},
{"p":"Offset","s":0.8,"m":"s","x":187,"y":93,"l":85,"h":99},
{"p":"Offset","s":0.8,"m":"s","x":193,"y":86,"l":76,"h":95},
{"p":"Offset","s":0.8,"m":"s","x":200,"y":88,"l":78,"h":97},
{"p":"Offset","s":0.8,"m":"d","x":13,"y":1},
{"p":"Offset","s":0.8,"m":"d","x":20,"y":2,"l":0,"h":5},
{"p":"Offset","s":0.8,"m":"d","x":27,"y":10,"l":2,"h":20},
{"p":"Offset","s":0.8,"m":"d","x":33,"y":30,"l":15,"h":45},
{"p":"Offset","s":0.8,"m":"d","x":40,"y":37,"l":20,"h":55},
{"p":"Offset","s":0.8,"m":"d","x":47,"y":30,"l":15,"h":48},
{"p":"Offset","s":0.8,"m":"d","x":53,"y":22,"l":8,"h":38},
{"p":"Offset","s":0.8,"m":"d","x":60,"y":20,"l":8,"h":35},
{"p":"Offset","s":0.8,"m":"d","x":67,"y":30,"l":15,"h":48},
{"p":"Offset","s":0.8,"m":"d","x":73,"y":38,"l":22,"h":55},
{"p":"Offset","s":0.8,"m":"d","x":80,"y":42,"l":27,"h":58},
{"p":"Offset","s":0.8,"m":"d","x":87,"y":44,"l":28,"h":60},
{"p":"Offset","s":0.8,"m":"d","x":93,"y":52,"l":35,"h":70},
{"p":"Offset","s":0.8,"m":"d","x":100,"y":68,"l":50,"h":85},
{"p":"Offset","s":0.8,"m":"d","x":107,"y":75,"l":55,"h":88},
{"p":"Offset","s":0.8,"m":"d","x":113,"y":50,"l":30,"h":70},
{"p":"Offset","s":0.8,"m":"d","x":120,"y":36,"l":20,"h":55},
{"p":"Offset","s":0.8,"m":"d","x":127,"y":40,"l":22,"h":58},
{"p":"Offset","s":0.8,"m":"d","x":133,"y":28,"l":12,"h":48},
{"p":"Offset","s":0.8,"m":"d","x":140,"y":30,"l":12,"h":50},
{"p":"Offset","s":0.8,"m":"d","x":147,"y":23,"l":8,"h":42},
{"p":"Offset","s":0.8,"m":"d","x":153,"y":25,"l":10,"h":45},
{"p":"Offset","s":0.8,"m":"d","x":160,"y":36,"l":18,"h":55},
{"p":"Offset","s":0.8,"m":"d","x":167,"y":48,"l":28,"h":68},
{"p":"Offset","s":0.8,"m":"d","x":173,"y":53,"l":32,"h":72},
{"p":"Offset","s":0.8,"m":"d","x":180,"y":56,"l":36,"h":76},
{"p":"Offset","s":0.8,"m":"d","x":187,"y":62,"l":42,"h":82},
{"p":"Offset","s":0.8,"m":"d","x":193,"y":70,"l":50,"h":88},
{"p":"Offset","s":0.8,"m":"d","x":200,"y":78,"l":58,"h":92},
{"p":"Offset","s":0.7,"m":"s","x":73,"y":100},
{"p":"Offset","s":0.7,"m":"s","x":120,"y":100},
{"p":"Offset","s":0.7,"m":"s","x":127,"y":97},
{"p":"Offset","s":0.7,"m":"s","x":140,"y":97},
{"p":"Offset","s":0.7,"m":"s","x":153,"y":97},
{"p":"Offset","s":0.7,"m":"s","x":160,"y":99},
{"p":"Offset","s":0.7,"m":"s","x":200,"y":100},
{"p":"Offset","s":0.7,"m":"d","x":13,"y":1},
{"p":"Offset","s":0.7,"m":"d","x":20,"y":5,"l":0,"h":12},
{"p":"Offset","s":0.7,"m":"d","x":27,"y":30,"l":15,"h":48},
{"p":"Offset","s":0.7,"m":"d","x":33,"y":53,"l":42,"h":64},
{"p":"Offset","s":0.7,"m":"d","x":40,"y":57,"l":45,"h":68},
{"p":"Offset","s":0.7,"m":"d","x":47,"y":54,"l":42,"h":66},
{"p":"Offset","s":0.7,"m":"d","x":53,"y":64,"l":52,"h":76},
{"p":"Offset","s":0.7,"m":"d","x":60,"y":70,"l":58,"h":82},
{"p":"Offset","s":0.7,"m":"d","x":67,"y":72,"l":60,"h":84},
{"p":"Offset","s":0.7,"m":"d","x":73,"y":71,"l":60,"h":82},
{"p":"Offset","s":0.7,"m":"d","x":80,"y":72,"l":60,"h":84},
{"p":"Offset","s":0.7,"m":"d","x":87,"y":81,"l":70,"h":92},
{"p":"Offset","s":0.7,"m":"d","x":93,"y":88,"l":78,"h":96},
{"p":"Offset","s":0.7,"m":"d","x":100,"y":92,"l":85,"h":98},
{"p":"Offset","s":0.7,"m":"d","x":107,"y":91,"l":82,"h":98},
{"p":"Offset","s":0.7,"m":"d","x":113,"y":85,"l":72,"h":96},
{"p":"Offset","s":0.7,"m":"d","x":120,"y":75,"l":58,"h":90},
{"p":"Offset","s":0.7,"m":"d","x":127,"y":52,"l":32,"h":75},
{"p":"Offset","s":0.7,"m":"d","x":133,"y":26,"l":10,"h":50},
{"p":"Offset","s":0.7,"m":"d","x":140,"y":48,"l":28,"h":70},
{"p":"Offset","s":0.7,"m":"d","x":147,"y":60,"l":40,"h":80},
{"p":"Offset","s":0.7,"m":"d","x":153,"y":78,"l":62,"h":92},
{"p":"Offset","s":0.7,"m":"d","x":160,"y":91,"l":80,"h":98},
{"p":"Offset","s":0.7,"m":"d","x":167,"y":97,"l":92,"h":100},
{"p":"Offset","s":0.7,"m":"d","x":173,"y":99,"l":96,"h":100},
{"p":"Offset","s":0.7,"m":"d","x":180,"y":96,"l":88,"h":100},
{"p":"Offset","s":0.7,"m":"d","x":187,"y":89,"l":78,"h":99},
{"p":"Offset","s":0.7,"m":"d","x":193,"y":93,"l":84,"h":100},
{"p":"Offset","s":0.7,"m":"d","x":200,"y":81,"l":65,"h":95},
{"p":"Offset","s":0.6,"m":"s","x":73,"y":100},
{"p":"Offset","s":0.6,"m":"s","x":127,"y":100,"l":99,"h":100},
{"p":"Offset","s":0.6,"m":"s","x":133,"y":97,"l":92,"h":100},
{"p":"Offset","s":0.6,"m":"s","x":140,"y":90,"l":82,"h":97},
{"p":"Offset","s":0.6,"m":"s","x":147,"y":84,"l":74,"h":93},
{"p":"Offset","s":0.6,"m":"s","x":153,"y":80,"l":70,"h":90},
{"p":"Offset","s":0.6,"m":"s","x":160,"y":80,"l":70,"h":90},
{"p":"Offset","s":0.6,"m":"s","x":167,"y":79,"l":68,"h":90},
{"p":"Offset","s":0.6,"m":"s","x":173,"y":85,"l":75,"h":94},
{"p":"Offset","s":0.6,"m":"s","x":180,"y":93,"l":85,"h":99},
{"p":"Offset","s":0.6,"m":"s","x":187,"y":98,"l":94,"h":100},
{"p":"Offset","s":0.6,"m":"s","x":193,"y":92,"l":84,"h":99},
{"p":"Offset","s":0.6,"m":"s","x":200,"y":95,"l":88,"h":100},
{"p":"Offset","s":0.6,"m":"d","x":13,"y":1},
{"p":"Offset","s":0.6,"m":"d","x":20,"y":8},
{"p":"Offset","s":0.6,"m":"d","x":27,"y":40,"l":25,"h":55},
{"p":"Offset","s":0.6,"m":"d","x":33,"y":62,"l":50,"h":74},
{"p":"Offset","s":0.6,"m":"d","x":40,"y":68,"l":56,"h":80},
{"p":"Offset","s":0.6,"m":"d","x":47,"y":76,"l":65,"h":86},
{"p":"Offset","s":0.6,"m":"d","x":53,"y":82,"l":72,"h":90},
{"p":"Offset","s":0.6,"m":"d","x":60,"y":88,"l":80,"h":95},
{"p":"Offset","s":0.6,"m":"d","x":67,"y":92,"l":86,"h":97},
{"p":"Offset","s":0.6,"m":"d","x":73,"y":94,"l":89,"h":98},
{"p":"Offset","s":0.6,"m":"d","x":80,"y":96,"l":92,"h":99},
{"p":"Offset","s":0.6,"m":"d","x":87,"y":98,"l":95,"h":100},
{"p":"Offset","s":0.6,"m":"d","x":100,"y":100,"l":99,"h":100},
{"p":"Offset","s":0.6,"m":"d","x":127,"y":100,"l":98,"h":100},
{"p":"Offset","s":0.6,"m":"d","x":133,"y":98,"l":94,"h":100},
{"p":"Offset","s":0.6,"m":"d","x":140,"y":96,"l":90,"h":100},
{"p":"Offset","s":0.6,"m":"d","x":147,"y":92,"l":85,"h":98},
{"p":"Offset","s":0.6,"m":"d","x":153,"y":90,"l":82,"h":97},
{"p":"Offset","s":0.6,"m":"d","x":160,"y":94,"l":88,"h":99},
{"p":"Offset","s":0.6,"m":"d","x":167,"y":96,"l":91,"h":100},
{"p":"Offset","s":0.6,"m":"d","x":173,"y":99,"l":96,"h":100},
{"p":"Offset","s":0.6,"m":"d","x":180,"y":100,"l":98,"h":100},
{"p":"Offset","s":0.6,"m":"d","x":187,"y":97,"l":92,"h":100},
{"p":"Offset","s":0.6,"m":"d","x":193,"y":94,"l":88,"h":99},
{"p":"Offset","s":0.6,"m":"d","x":200,"y":95,"l":89,"h":100},
{"p":"Offset","s":0.5,"m":"d","x":13,"y":1},
{"p":"Offset","s":0.5,"m":"d","x":20,"y":10},
{"p":"Offset","s":0.5,"m":"d","x":27,"y":50},
{"p":"Offset","s":0.5,"m":"d","x":33,"y":76},
{"p":"Offset","s":0.5,"m":"d","x":40,"y":78},
{"p":"Offset","s":0.5,"m":"d","x":47,"y":82},
{"p":"Offset","s":0.5,"m":"d","x":53,"y":90},
{"p":"Offset","s":0.5,"m":"d","x":60,"y":94},
{"p":"Offset","s":0.5,"m":"d","x":67,"y":96},
{"p":"Offset","s":0.5,"m":"d","x":73,"y":98},
{"p":"Offset","s":0.5,"m":"d","x":100,"y":99},
{"p":"Offset","s":0.5,"m":"d","x":147,"y":98},
{"p":"Offset","s":0.5,"m":"d","x":167,"y":97},
{"p":"Offset","s":0.5,"m":"d","x":187,"y":98},
{"p":"Offset","s":0.5,"m":"d","x":200,"y":94},
{"p":"Offset","s":0.4,"m":"d","x":13,"y":1},
{"p":"Offset","s":0.4,"m":"d","x":20,"y":12},
{"p":"Offset","s":0.4,"m":"d","x":27,"y":52},
{"p":"Offset","s":0.4,"m":"d","x":33,"y":78},
{"p":"Offset","s":0.4,"m":"d","x":40,"y":80},
{"p":"Offset","s":0.4,"m":"d","x":47,"y":84},
{"p":"Offset","s":0.4,"m":"d","x":53,"y":92},
{"p":"Offset","s":0.4,"m":"d","x":60,"y":95},
{"p":"Offset","s":0.4,"m":"d","x":67,"y":97},
{"p":"Offset","s":0.4,"m":"d","x":73,"y":99},
{"p":"Offset","s":0.4,"m":"d","x":200,"y":98},
{"p":"Offset","s":0.2,"m":"s","x":13,"y":1,"l":0,"h":2},
{"p":"Offset","s":0.2,"m":"s","x":20,"y":14,"l":5,"h":30},
{"p":"Offset","s":0.2,"m":"s","x":27,"y":54,"l":35,"h":95},
{"p":"Offset","s":0.2,"m":"s","x":33,"y":79,"l":62,"h":100},
{"p":"Offset","s":0.2,"m":"s","x":40,"y":80,"l":63,"h":100},
{"p":"Offset","s":0.2,"m":"s","x":47,"y":82,"l":68,"h":100},
{"p":"Offset","s":0.2,"m":"s","x":53,"y":92,"l":86,"h":98},
{"p":"Offset","s":0.2,"m":"s","x":60,"y":96,"l":92,"h":100},
{"p":"Offset","s":0.2,"m":"s","x":67,"y":98,"l":96,"h":100},
{"p":"Offset","s":0.2,"m":"s","x":73,"y":100,"l":99,"h":100},
{"p":"Offset","s":0.2,"m":"s","x":200,"y":100,"l":99,"h":100},
{"p":"Offset","s":0.1,"m":"s","x":7,"y":2},
{"p":"Offset","s":0.1,"m":"s","x":13,"y":1},
{"p":"Offset","s":0.1,"m":"s","x":20,"y":15},
{"p":"Offset","s":0.1,"m":"s","x":27,"y":55},
{"p":"Offset","s":0.1,"m":"s","x":33,"y":80},
{"p":"Offset","s":0.1,"m":"s","x":40,"y":81},
{"p":"Offset","s":0.1,"m":"s","x":47,"y":83},
{"p":"Offset","s":0.1,"m":"s","x":53,"y":90},
{"p":"Offset","s":0.1,"m":"s","x":60,"y":95},
{"p":"Offset","s":0.1,"m":"s","x":67,"y":97},
{"p":"Offset","s":0.1,"m":"s","x":73,"y":100},
{"p":"Offset","s":0.1,"m":"s","x":200,"y":100},

{"p":"Repeat","s":0.9,"m":"d","x":13,"y":1},
{"p":"Repeat","s":0.9,"m":"d","x":20,"y":15,"l":8,"h":22},
{"p":"Repeat","s":0.9,"m":"d","x":27,"y":40,"l":32,"h":48},
{"p":"Repeat","s":0.9,"m":"d","x":33,"y":45,"l":37,"h":53},
{"p":"Repeat","s":0.9,"m":"d","x":40,"y":52,"l":44,"h":60},
{"p":"Repeat","s":0.9,"m":"d","x":47,"y":46,"l":38,"h":54},
{"p":"Repeat","s":0.9,"m":"d","x":53,"y":44,"l":36,"h":52},
{"p":"Repeat","s":0.9,"m":"d","x":60,"y":50,"l":42,"h":58},
{"p":"Repeat","s":0.9,"m":"d","x":67,"y":46,"l":38,"h":54},
{"p":"Repeat","s":0.9,"m":"d","x":73,"y":49,"l":41,"h":57},
{"p":"Repeat","s":0.9,"m":"d","x":80,"y":50,"l":42,"h":58},
{"p":"Repeat","s":0.9,"m":"d","x":87,"y":47,"l":39,"h":55},
{"p":"Repeat","s":0.9,"m":"d","x":93,"y":51,"l":43,"h":59},
{"p":"Repeat","s":0.9,"m":"d","x":100,"y":49,"l":41,"h":57},
{"p":"Repeat","s":0.9,"m":"d","x":107,"y":52,"l":44,"h":60},
{"p":"Repeat","s":0.9,"m":"d","x":113,"y":54,"l":46,"h":62},
{"p":"Repeat","s":0.9,"m":"d","x":120,"y":70,"l":62,"h":78},
{"p":"Repeat","s":0.9,"m":"d","x":127,"y":80,"l":73,"h":87},
{"p":"Repeat","s":0.9,"m":"d","x":133,"y":85,"l":79,"h":91},
{"p":"Repeat","s":0.9,"m":"d","x":140,"y":85,"l":79,"h":91},
{"p":"Repeat","s":0.9,"m":"d","x":147,"y":88,"l":83,"h":93},
{"p":"Repeat","s":0.9,"m":"d","x":153,"y":89,"l":84,"h":94},
{"p":"Repeat","s":0.9,"m":"d","x":160,"y":90,"l":85,"h":95},
{"p":"Repeat","s":0.9,"m":"d","x":167,"y":91,"l":86,"h":96},
{"p":"Repeat","s":0.9,"m":"d","x":173,"y":92,"l":87,"h":97},
{"p":"Repeat","s":0.9,"m":"d","x":180,"y":92,"l":87,"h":97},
{"p":"Repeat","s":0.9,"m":"d","x":187,"y":90,"l":85,"h":95},
{"p":"Repeat","s":0.9,"m":"d","x":193,"y":88,"l":82,"h":94},
{"p":"Repeat","s":0.9,"m":"d","x":200,"y":86,"l":80,"h":92},
{"p":"Repeat","s":0.8,"m":"d","x":13,"y":1},
{"p":"Repeat","s":0.8,"m":"d","x":20,"y":15,"l":8,"h":22},
{"p":"Repeat","s":0.8,"m":"d","x":27,"y":38,"l":30,"h":46},
{"p":"Repeat","s":0.8,"m":"d","x":33,"y":42,"l":33,"h":51},
{"p":"Repeat","s":0.8,"m":"d","x":40,"y":40,"l":31,"h":49},
{"p":"Repeat","s":0.8,"m":"d","x":47,"y":45,"l":36,"h":54},
{"p":"Repeat","s":0.8,"m":"d","x":53,"y":47,"l":38,"h":56},
{"p":"Repeat","s":0.8,"m":"d","x":60,"y":47,"l":38,"h":56},
{"p":"Repeat","s":0.8,"m":"d","x":67,"y":49,"l":40,"h":58},
{"p":"Repeat","s":0.8,"m":"d","x":73,"y":48,"l":39,"h":57},
{"p":"Repeat","s":0.8,"m":"d","x":80,"y":49,"l":40,"h":58},
{"p":"Repeat","s":0.8,"m":"d","x":87,"y":50,"l":41,"h":59},
{"p":"Repeat","s":0.8,"m":"d","x":93,"y":50,"l":41,"h":59},
{"p":"Repeat","s":0.8,"m":"d","x":100,"y":51,"l":42,"h":60},
{"p":"Repeat","s":0.8,"m":"d","x":107,"y":54,"l":45,"h":63},
{"p":"Repeat","s":0.8,"m":"d","x":113,"y":52,"l":43,"h":61},
{"p":"Repeat","s":0.8,"m":"d","x":120,"y":68,"l":60,"h":76},
{"p":"Repeat","s":0.8,"m":"d","x":127,"y":79,"l":72,"h":86},
{"p":"Repeat","s":0.8,"m":"d","x":133,"y":83,"l":77,"h":89},
{"p":"Repeat","s":0.8,"m":"d","x":140,"y":81,"l":75,"h":87},
{"p":"Repeat","s":0.8,"m":"d","x":147,"y":84,"l":78,"h":90},
{"p":"Repeat","s":0.8,"m":"d","x":153,"y":84,"l":78,"h":90},
{"p":"Repeat","s":0.8,"m":"d","x":160,"y":86,"l":81,"h":91},
{"p":"Repeat","s":0.8,"m":"d","x":167,"y":87,"l":82,"h":92},
{"p":"Repeat","s":0.8,"m":"d","x":173,"y":86,"l":81,"h":91},
{"p":"Repeat","s":0.8,"m":"d","x":180,"y":88,"l":83,"h":93},
{"p":"Repeat","s":0.8,"m":"d","x":187,"y":90,"l":85,"h":95},
{"p":"Repeat","s":0.8,"m":"d","x":193,"y":90,"l":85,"h":95},
{"p":"Repeat","s":0.8,"m":"d","x":200,"y":89,"l":84,"h":94},
{"p":"Repeat","s":0.7,"m":"d","x":13,"y":1},
{"p":"Repeat","s":0.7,"m":"d","x":20,"y":18,"l":10,"h":26},
{"p":"Repeat","s":0.7,"m":"d","x":27,"y":40,"l":32,"h":48},
{"p":"Repeat","s":0.7,"m":"d","x":33,"y":50,"l":42,"h":58},
{"p":"Repeat","s":0.7,"m":"d","x":40,"y":55,"l":47,"h":63},
{"p":"Repeat","s":0.7,"m":"d","x":47,"y":58,"l":50,"h":66},
{"p":"Repeat","s":0.7,"m":"d","x":53,"y":57,"l":49,"h":65},
{"p":"Repeat","s":0.7,"m":"d","x":60,"y":52,"l":44,"h":60},
{"p":"Repeat","s":0.7,"m":"d","x":67,"y":55,"l":47,"h":63},
{"p":"Repeat","s":0.7,"m":"d","x":73,"y":52,"l":44,"h":60},
{"p":"Repeat","s":0.7,"m":"d","x":80,"y":57,"l":49,"h":65},
{"p":"Repeat","s":0.7,"m":"d","x":87,"y":55,"l":47,"h":63},
{"p":"Repeat","s":0.7,"m":"d","x":93,"y":60,"l":52,"h":68},
{"p":"Repeat","s":0.7,"m":"d","x":100,"y":58,"l":50,"h":66},
{"p":"Repeat","s":0.7,"m":"d","x":107,"y":63,"l":55,"h":71},
{"p":"Repeat","s":0.7,"m":"d","x":113,"y":62,"l":54,"h":70},
{"p":"Repeat","s":0.7,"m":"d","x":120,"y":80,"l":73,"h":87},
{"p":"Repeat","s":0.7,"m":"d","x":127,"y":85,"l":79,"h":91},
{"p":"Repeat","s":0.7,"m":"d","x":133,"y":88,"l":83,"h":93},
{"p":"Repeat","s":0.7,"m":"d","x":140,"y":90,"l":85,"h":95},
{"p":"Repeat","s":0.7,"m":"d","x":147,"y":88,"l":83,"h":93},
{"p":"Repeat","s":0.7,"m":"d","x":153,"y":91,"l":86,"h":96},
{"p":"Repeat","s":0.7,"m":"d","x":160,"y":92,"l":87,"h":97},
{"p":"Repeat","s":0.7,"m":"d","x":167,"y":93,"l":88,"h":98},
{"p":"Repeat","s":0.7,"m":"d","x":173,"y":94,"l":89,"h":99},
{"p":"Repeat","s":0.7,"m":"d","x":180,"y":95,"l":90,"h":100},
{"p":"Repeat","s":0.7,"m":"d","x":187,"y":96,"l":91,"h":100},
{"p":"Repeat","s":0.7,"m":"d","x":193,"y":97,"l":92,"h":100},
{"p":"Repeat","s":0.7,"m":"d","x":200,"y":97,"l":92,"h":100},
{"p":"Repeat","s":0.6,"m":"d","x":13,"y":1},
{"p":"Repeat","s":0.6,"m":"d","x":20,"y":20,"l":12,"h":28},
{"p":"Repeat","s":0.6,"m":"d","x":27,"y":45,"l":37,"h":53},
{"p":"Repeat","s":0.6,"m":"d","x":33,"y":55,"l":47,"h":63},
{"p":"Repeat","s":0.6,"m":"d","x":40,"y":63,"l":55,"h":71},
{"p":"Repeat","s":0.6,"m":"d","x":47,"y":66,"l":58,"h":74},
{"p":"Repeat","s":0.6,"m":"d","x":53,"y":70,"l":62,"h":78},
{"p":"Repeat","s":0.6,"m":"d","x":60,"y":68,"l":60,"h":76},
{"p":"Repeat","s":0.6,"m":"d","x":67,"y":64,"l":56,"h":72},
{"p":"Repeat","s":0.6,"m":"d","x":73,"y":63,"l":55,"h":71},
{"p":"Repeat","s":0.6,"m":"d","x":80,"y":66,"l":58,"h":74},
{"p":"Repeat","s":0.6,"m":"d","x":87,"y":67,"l":59,"h":75},
{"p":"Repeat","s":0.6,"m":"d","x":93,"y":65,"l":57,"h":73},
{"p":"Repeat","s":0.6,"m":"d","x":100,"y":70,"l":62,"h":78},
{"p":"Repeat","s":0.6,"m":"d","x":107,"y":68,"l":60,"h":76},
{"p":"Repeat","s":0.6,"m":"d","x":113,"y":67,"l":59,"h":75},
{"p":"Repeat","s":0.6,"m":"d","x":120,"y":80,"l":73,"h":87},
{"p":"Repeat","s":0.6,"m":"d","x":127,"y":87,"l":81,"h":93},
{"p":"Repeat","s":0.6,"m":"d","x":133,"y":89,"l":84,"h":94},
{"p":"Repeat","s":0.6,"m":"d","x":140,"y":91,"l":86,"h":96},
{"p":"Repeat","s":0.6,"m":"d","x":153,"y":92,"l":87,"h":97},
{"p":"Repeat","s":0.6,"m":"d","x":167,"y":94,"l":89,"h":99},
{"p":"Repeat","s":0.6,"m":"d","x":180,"y":95,"l":90,"h":100},
{"p":"Repeat","s":0.6,"m":"d","x":193,"y":95,"l":90,"h":100},
{"p":"Repeat","s":0.6,"m":"d","x":200,"y":95,"l":90,"h":100},
{"p":"Repeat","s":0.5,"m":"d","x":13,"y":1},
{"p":"Repeat","s":0.5,"m":"d","x":20,"y":22,"l":14,"h":30},
{"p":"Repeat","s":0.5,"m":"d","x":27,"y":55,"l":45,"h":65},
{"p":"Repeat","s":0.5,"m":"d","x":33,"y":66,"l":58,"h":74},
{"p":"Repeat","s":0.5,"m":"d","x":40,"y":70,"l":62,"h":78},
{"p":"Repeat","s":0.5,"m":"d","x":47,"y":72,"l":64,"h":80},
{"p":"Repeat","s":0.5,"m":"d","x":53,"y":78,"l":70,"h":86},
{"p":"Repeat","s":0.5,"m":"d","x":60,"y":75,"l":67,"h":83},
{"p":"Repeat","s":0.5,"m":"d","x":67,"y":73,"l":65,"h":81},
{"p":"Repeat","s":0.5,"m":"d","x":73,"y":70,"l":62,"h":78},
{"p":"Repeat","s":0.5,"m":"d","x":80,"y":69,"l":61,"h":77},
{"p":"Repeat","s":0.5,"m":"d","x":87,"y":70,"l":62,"h":78},
{"p":"Repeat","s":0.5,"m":"d","x":93,"y":73,"l":65,"h":81},
{"p":"Repeat","s":0.5,"m":"d","x":100,"y":71,"l":63,"h":79},
{"p":"Repeat","s":0.5,"m":"d","x":107,"y":72,"l":64,"h":80},
{"p":"Repeat","s":0.5,"m":"d","x":113,"y":72,"l":64,"h":80},
{"p":"Repeat","s":0.5,"m":"d","x":120,"y":80,"l":73,"h":87},
{"p":"Repeat","s":0.5,"m":"d","x":127,"y":87,"l":81,"h":93},
{"p":"Repeat","s":0.5,"m":"d","x":133,"y":90,"l":85,"h":95},
{"p":"Repeat","s":0.5,"m":"d","x":140,"y":93,"l":88,"h":98},
{"p":"Repeat","s":0.5,"m":"d","x":147,"y":96,"l":92,"h":100},
{"p":"Repeat","s":0.5,"m":"d","x":153,"y":97,"l":93,"h":100},
{"p":"Repeat","s":0.5,"m":"d","x":167,"y":98,"l":95,"h":100},
{"p":"Repeat","s":0.5,"m":"d","x":200,"y":98,"l":95,"h":100},
{"p":"Repeat","s":0.4,"m":"d","x":13,"y":1},
{"p":"Repeat","s":0.4,"m":"d","x":20,"y":24},
{"p":"Repeat","s":0.4,"m":"d","x":27,"y":62},
{"p":"Repeat","s":0.4,"m":"d","x":33,"y":73,"l":66,"h":80},
{"p":"Repeat","s":0.4,"m":"d","x":40,"y":76,"l":69,"h":83},
{"p":"Repeat","s":0.4,"m":"d","x":47,"y":79,"l":72,"h":86},
{"p":"Repeat","s":0.4,"m":"d","x":53,"y":81,"l":74,"h":88},
{"p":"Repeat","s":0.4,"m":"d","x":60,"y":84,"l":77,"h":91},
{"p":"Repeat","s":0.4,"m":"d","x":67,"y":86,"l":79,"h":93},
{"p":"Repeat","s":0.4,"m":"d","x":73,"y":88,"l":81,"h":95},
{"p":"Repeat","s":0.4,"m":"d","x":80,"y":87,"l":80,"h":94},
{"p":"Repeat","s":0.4,"m":"d","x":87,"y":86,"l":79,"h":93},
{"p":"Repeat","s":0.4,"m":"d","x":93,"y":84,"l":77,"h":91},
{"p":"Repeat","s":0.4,"m":"d","x":100,"y":83,"l":76,"h":90},
{"p":"Repeat","s":0.4,"m":"d","x":107,"y":88,"l":81,"h":95},
{"p":"Repeat","s":0.4,"m":"d","x":113,"y":90,"l":84,"h":96},
{"p":"Repeat","s":0.4,"m":"d","x":120,"y":93,"l":88,"h":98},
{"p":"Repeat","s":0.4,"m":"d","x":127,"y":96,"l":92,"h":100},
{"p":"Repeat","s":0.4,"m":"d","x":133,"y":97},
{"p":"Repeat","s":0.4,"m":"d","x":147,"y":98},
{"p":"Repeat","s":0.4,"m":"d","x":200,"y":98},
{"p":"Repeat","s":0.3,"m":"d","x":13,"y":1},
{"p":"Repeat","s":0.3,"m":"d","x":20,"y":24},
{"p":"Repeat","s":0.3,"m":"d","x":27,"y":65},
{"p":"Repeat","s":0.3,"m":"d","x":33,"y":80},
{"p":"Repeat","s":0.3,"m":"d","x":40,"y":84},
{"p":"Repeat","s":0.3,"m":"d","x":47,"y":88},
{"p":"Repeat","s":0.3,"m":"d","x":53,"y":89},
{"p":"Repeat","s":0.3,"m":"d","x":60,"y":92},
{"p":"Repeat","s":0.3,"m":"d","x":67,"y":95},
{"p":"Repeat","s":0.3,"m":"d","x":73,"y":95},
{"p":"Repeat","s":0.3,"m":"d","x":80,"y":94},
{"p":"Repeat","s":0.3,"m":"d","x":87,"y":96},
{"p":"Repeat","s":0.3,"m":"d","x":93,"y":95},
{"p":"Repeat","s":0.3,"m":"d","x":100,"y":93},
{"p":"Repeat","s":0.3,"m":"d","x":107,"y":92},
{"p":"Repeat","s":0.3,"m":"d","x":113,"y":91},
{"p":"Repeat","s":0.3,"m":"d","x":120,"y":94},
{"p":"Repeat","s":0.3,"m":"d","x":127,"y":97},
{"p":"Repeat","s":0.3,"m":"d","x":133,"y":98},
{"p":"Repeat","s":0.3,"m":"d","x":147,"y":99},
{"p":"Repeat","s":0.3,"m":"d","x":200,"y":99},
{"p":"Repeat","s":0.3,"m":"s","x":33,"y":82},
{"p":"Repeat","s":0.3,"m":"s","x":47,"y":92},
{"p":"Repeat","s":0.3,"m":"s","x":53,"y":97},
{"p":"Repeat","s":0.3,"m":"s","x":60,"y":98},
{"p":"Repeat","s":0.3,"m":"s","x":80,"y":99},
{"p":"Repeat","s":0.3,"m":"s","x":100,"y":100},
{"p":"Repeat","s":0.3,"m":"s","x":200,"y":100},
{"p":"Repeat","s":0.2,"m":"s","x":13,"y":1,"l":0,"h":2},
{"p":"Repeat","s":0.2,"m":"s","x":20,"y":25,"l":10,"h":45},
{"p":"Repeat","s":0.2,"m":"s","x":27,"y":75,"l":50,"h":100},
{"p":"Repeat","s":0.2,"m":"s","x":33,"y":84,"l":72,"h":100},
{"p":"Repeat","s":0.2,"m":"s","x":40,"y":88,"l":78,"h":100},
{"p":"Repeat","s":0.2,"m":"s","x":47,"y":96,"l":88,"h":100},
{"p":"Repeat","s":0.2,"m":"s","x":53,"y":99,"l":96,"h":100},
{"p":"Repeat","s":0.2,"m":"s","x":60,"y":100,"l":99,"h":100},
{"p":"Repeat","s":0.2,"m":"s","x":200,"y":100,"l":99,"h":100},
{"p":"Repeat","s":0.1,"m":"s","x":7,"y":2},
{"p":"Repeat","s":0.1,"m":"s","x":13,"y":1},
{"p":"Repeat","s":0.1,"m":"s","x":20,"y":25},
{"p":"Repeat","s":0.1,"m":"s","x":27,"y":78,"l":65,"h":90},
{"p":"Repeat","s":0.1,"m":"s","x":33,"y":82,"l":72,"h":92},
{"p":"Repeat","s":0.1,"m":"s","x":40,"y":82,"l":72,"h":93},
{"p":"Repeat","s":0.1,"m":"s","x":47,"y":84,"l":74,"h":95},
{"p":"Repeat","s":0.1,"m":"s","x":53,"y":86,"l":76,"h":96},
{"p":"Repeat","s":0.1,"m":"s","x":60,"y":87,"l":77,"h":97},
{"p":"Repeat","s":0.1,"m":"s","x":67,"y":86,"l":76,"h":96},
{"p":"Repeat","s":0.1,"m":"s","x":73,"y":89,"l":78,"h":97},
{"p":"Repeat","s":0.1,"m":"s","x":80,"y":85,"l":72,"h":96},
{"p":"Repeat","s":0.1,"m":"s","x":87,"y":89,"l":78,"h":97},
{"p":"Repeat","s":0.1,"m":"s","x":93,"y":90,"l":80,"h":98},
{"p":"Repeat","s":0.1,"m":"s","x":100,"y":92,"l":84,"h":99},
{"p":"Repeat","s":0.1,"m":"s","x":107,"y":91,"l":84,"h":98},
{"p":"Repeat","s":0.1,"m":"s","x":113,"y":94,"l":88,"h":99},
{"p":"Repeat","s":0.1,"m":"s","x":120,"y":97,"l":93,"h":100},
{"p":"Repeat","s":0.1,"m":"s","x":127,"y":100,"l":98,"h":100},
{"p":"Repeat","s":0.1,"m":"s","x":133,"y":98,"l":96,"h":100},
{"p":"Repeat","s":0.1,"m":"s","x":140,"y":99,"l":97,"h":100},
{"p":"Repeat","s":0.1,"m":"s","x":160,"y":99,"l":97,"h":100},
{"p":"Repeat","s":0.1,"m":"s","x":200,"y":98,"l":96,"h":100},

{"p":"Zero","s":0.9,"m":"s","x":13,"y":1},
{"p":"Zero","s":0.9,"m":"s","x":20,"y":20},
{"p":"Zero","s":0.9,"m":"s","x":27,"y":65},
{"p":"Zero","s":0.9,"m":"s","x":33,"y":80},
{"p":"Zero","s":0.9,"m":"s","x":47,"y":90},
{"p":"Zero","s":0.9,"m":"s","x":60,"y":100},
{"p":"Zero","s":0.9,"m":"s","x":140,"y":100,"l":99,"h":100},
{"p":"Zero","s":0.9,"m":"s","x":147,"y":98,"l":95,"h":100},
{"p":"Zero","s":0.9,"m":"s","x":160,"y":97,"l":93,"h":100},
{"p":"Zero","s":0.9,"m":"s","x":173,"y":95,"l":90,"h":99},
{"p":"Zero","s":0.9,"m":"s","x":180,"y":94,"l":88,"h":99},
{"p":"Zero","s":0.9,"m":"s","x":187,"y":87,"l":78,"h":96},
{"p":"Zero","s":0.9,"m":"s","x":193,"y":76,"l":65,"h":90},
{"p":"Zero","s":0.9,"m":"s","x":200,"y":60,"l":48,"h":75},
{"p":"Zero","s":0.9,"m":"d","x":13,"y":1},
{"p":"Zero","s":0.9,"m":"d","x":20,"y":5,"l":2,"h":8},
{"p":"Zero","s":0.9,"m":"d","x":27,"y":18,"l":13,"h":23},
{"p":"Zero","s":0.9,"m":"d","x":33,"y":23,"l":19,"h":27},
{"p":"Zero","s":0.9,"m":"d","x":40,"y":20,"l":16,"h":24},
{"p":"Zero","s":0.9,"m":"d","x":47,"y":22,"l":18,"h":26},
{"p":"Zero","s":0.9,"m":"d","x":53,"y":26,"l":22,"h":30},
{"p":"Zero","s":0.9,"m":"d","x":60,"y":25,"l":21,"h":29},
{"p":"Zero","s":0.9,"m":"d","x":67,"y":26,"l":22,"h":30},
{"p":"Zero","s":0.9,"m":"d","x":73,"y":26,"l":22,"h":30},
{"p":"Zero","s":0.9,"m":"d","x":80,"y":27,"l":23,"h":31},
{"p":"Zero","s":0.9,"m":"d","x":87,"y":28,"l":24,"h":32},
{"p":"Zero","s":0.9,"m":"d","x":93,"y":26,"l":22,"h":30},
{"p":"Zero","s":0.9,"m":"d","x":100,"y":28,"l":24,"h":32},
{"p":"Zero","s":0.9,"m":"d","x":107,"y":26,"l":22,"h":30},
{"p":"Zero","s":0.9,"m":"d","x":113,"y":24,"l":20,"h":28},
{"p":"Zero","s":0.9,"m":"d","x":120,"y":27,"l":23,"h":31},
{"p":"Zero","s":0.9,"m":"d","x":127,"y":25,"l":21,"h":29},
{"p":"Zero","s":0.9,"m":"d","x":133,"y":26,"l":22,"h":30},
{"p":"Zero","s":0.9,"m":"d","x":140,"y":27,"l":23,"h":31},
{"p":"Zero","s":0.9,"m":"d","x":147,"y":26,"l":22,"h":30},
{"p":"Zero","s":0.9,"m":"d","x":153,"y":23,"l":19,"h":27},
{"p":"Zero","s":0.9,"m":"d","x":160,"y":21,"l":17,"h":25},
{"p":"Zero","s":0.9,"m":"d","x":167,"y":25,"l":21,"h":29},
{"p":"Zero","s":0.9,"m":"d","x":173,"y":20,"l":16,"h":24},
{"p":"Zero","s":0.9,"m":"d","x":180,"y":23,"l":19,"h":27},
{"p":"Zero","s":0.9,"m":"d","x":187,"y":21,"l":17,"h":25},
{"p":"Zero","s":0.9,"m":"d","x":193,"y":20,"l":16,"h":24},
{"p":"Zero","s":0.9,"m":"d","x":200,"y":18,"l":14,"h":22},
{"p":"Zero","s":0.8,"m":"s","x":13,"y":1},
{"p":"Zero","s":0.8,"m":"s","x":20,"y":18},
{"p":"Zero","s":0.8,"m":"s","x":27,"y":62},
{"p":"Zero","s":0.8,"m":"s","x":33,"y":80,"l":70,"h":90},
{"p":"Zero","s":0.8,"m":"s","x":40,"y":80,"l":70,"h":90},
{"p":"Zero","s":0.8,"m":"s","x":47,"y":79,"l":69,"h":89},
{"p":"Zero","s":0.8,"m":"s","x":53,"y":78,"l":68,"h":88},
{"p":"Zero","s":0.8,"m":"s","x":60,"y":80,"l":70,"h":90},
{"p":"Zero","s":0.8,"m":"s","x":67,"y":82,"l":72,"h":92},
{"p":"Zero","s":0.8,"m":"s","x":73,"y":82,"l":72,"h":92},
{"p":"Zero","s":0.8,"m":"s","x":80,"y":88,"l":80,"h":95},
{"p":"Zero","s":0.8,"m":"s","x":87,"y":94,"l":88,"h":99},
{"p":"Zero","s":0.8,"m":"s","x":93,"y":98,"l":95,"h":100},
{"p":"Zero","s":0.8,"m":"s","x":100,"y":100,"l":98,"h":100},
{"p":"Zero","s":0.8,"m":"s","x":140,"y":100,"l":98,"h":100},
{"p":"Zero","s":0.8,"m":"s","x":147,"y":96,"l":92,"h":100},
{"p":"Zero","s":0.8,"m":"s","x":153,"y":92,"l":86,"h":98},
{"p":"Zero","s":0.8,"m":"s","x":160,"y":85,"l":78,"h":92},
{"p":"Zero","s":0.8,"m":"s","x":167,"y":90,"l":84,"h":96},
{"p":"Zero","s":0.8,"m":"s","x":173,"y":88,"l":82,"h":94},
{"p":"Zero","s":0.8,"m":"s","x":180,"y":92,"l":86,"h":97},
{"p":"Zero","s":0.8,"m":"s","x":187,"y":87,"l":80,"h":94},
{"p":"Zero","s":0.8,"m":"s","x":193,"y":89,"l":83,"h":95},
{"p":"Zero","s":0.8,"m":"s","x":200,"y":90,"l":84,"h":96},
{"p":"Zero","s":0.8,"m":"d","x":13,"y":1},
{"p":"Zero","s":0.8,"m":"d","x":20,"y":8,"l":3,"h":13},
{"p":"Zero","s":0.8,"m":"d","x":27,"y":37,"l":30,"h":44},
{"p":"Zero","s":0.8,"m":"d","x":33,"y":49,"l":40,"h":58},
{"p":"Zero","s":0.8,"m":"d","x":40,"y":47,"l":38,"h":56},
{"p":"Zero","s":0.8,"m":"d","x":47,"y":46,"l":37,"h":55},
{"p":"Zero","s":0.8,"m":"d","x":53,"y":45,"l":36,"h":54},
{"p":"Zero","s":0.8,"m":"d","x":60,"y":50,"l":42,"h":58},
{"p":"Zero","s":0.8,"m":"d","x":67,"y":53,"l":45,"h":61},
{"p":"Zero","s":0.8,"m":"d","x":73,"y":53,"l":45,"h":61},
{"p":"Zero","s":0.8,"m":"d","x":80,"y":50,"l":43,"h":57},
{"p":"Zero","s":0.8,"m":"d","x":87,"y":55,"l":48,"h":62},
{"p":"Zero","s":0.8,"m":"d","x":93,"y":56,"l":49,"h":63},
{"p":"Zero","s":0.8,"m":"d","x":100,"y":58,"l":51,"h":65},
{"p":"Zero","s":0.8,"m":"d","x":107,"y":62,"l":55,"h":69},
{"p":"Zero","s":0.8,"m":"d","x":113,"y":65,"l":58,"h":72},
{"p":"Zero","s":0.8,"m":"d","x":120,"y":59,"l":52,"h":66},
{"p":"Zero","s":0.8,"m":"d","x":127,"y":57,"l":50,"h":64},
{"p":"Zero","s":0.8,"m":"d","x":133,"y":60,"l":53,"h":67},
{"p":"Zero","s":0.8,"m":"d","x":140,"y":62,"l":55,"h":69},
{"p":"Zero","s":0.8,"m":"d","x":147,"y":60,"l":53,"h":67},
{"p":"Zero","s":0.8,"m":"d","x":153,"y":55,"l":48,"h":62},
{"p":"Zero","s":0.8,"m":"d","x":160,"y":57,"l":50,"h":64},
{"p":"Zero","s":0.8,"m":"d","x":167,"y":50,"l":43,"h":57},
{"p":"Zero","s":0.8,"m":"d","x":173,"y":48,"l":41,"h":55},
{"p":"Zero","s":0.8,"m":"d","x":180,"y":54,"l":47,"h":61},
{"p":"Zero","s":0.8,"m":"d","x":187,"y":52,"l":45,"h":59},
{"p":"Zero","s":0.8,"m":"d","x":193,"y":55,"l":48,"h":62},
{"p":"Zero","s":0.8,"m":"d","x":200,"y":57,"l":50,"h":64},
{"p":"Zero","s":0.7,"m":"s","x":73,"y":100},
{"p":"Zero","s":0.7,"m":"s","x":140,"y":100},
{"p":"Zero","s":0.7,"m":"s","x":153,"y":98},
{"p":"Zero","s":0.7,"m":"s","x":167,"y":98},
{"p":"Zero","s":0.7,"m":"s","x":180,"y":97},
{"p":"Zero","s":0.7,"m":"s","x":200,"y":97},
{"p":"Zero","s":0.7,"m":"d","x":13,"y":1},
{"p":"Zero","s":0.7,"m":"d","x":20,"y":12,"l":6,"h":18},
{"p":"Zero","s":0.7,"m":"d","x":27,"y":50,"l":40,"h":60},
{"p":"Zero","s":0.7,"m":"d","x":33,"y":62,"l":52,"h":72},
{"p":"Zero","s":0.7,"m":"d","x":40,"y":70,"l":60,"h":80},
{"p":"Zero","s":0.7,"m":"d","x":47,"y":68,"l":58,"h":78},
{"p":"Zero","s":0.7,"m":"d","x":53,"y":76,"l":68,"h":84},
{"p":"Zero","s":0.7,"m":"d","x":60,"y":82,"l":76,"h":88},
{"p":"Zero","s":0.7,"m":"d","x":67,"y":85,"l":80,"h":90},
{"p":"Zero","s":0.7,"m":"d","x":73,"y":83,"l":78,"h":88},
{"p":"Zero","s":0.7,"m":"d","x":80,"y":83,"l":78,"h":88},
{"p":"Zero","s":0.7,"m":"d","x":87,"y":85,"l":80,"h":90},
{"p":"Zero","s":0.7,"m":"d","x":93,"y":86,"l":81,"h":91},
{"p":"Zero","s":0.7,"m":"d","x":100,"y":85,"l":80,"h":90},
{"p":"Zero","s":0.7,"m":"d","x":107,"y":84,"l":79,"h":89},
{"p":"Zero","s":0.7,"m":"d","x":113,"y":87,"l":82,"h":92},
{"p":"Zero","s":0.7,"m":"d","x":120,"y":85,"l":80,"h":90},
{"p":"Zero","s":0.7,"m":"d","x":127,"y":86,"l":81,"h":91},
{"p":"Zero","s":0.7,"m":"d","x":133,"y":84,"l":79,"h":89},
{"p":"Zero","s":0.7,"m":"d","x":140,"y":82,"l":77,"h":87},
{"p":"Zero","s":0.7,"m":"d","x":147,"y":84,"l":79,"h":89},
{"p":"Zero","s":0.7,"m":"d","x":153,"y":83,"l":78,"h":88},
{"p":"Zero","s":0.7,"m":"d","x":160,"y":81,"l":76,"h":86},
{"p":"Zero","s":0.7,"m":"d","x":167,"y":84,"l":79,"h":89},
{"p":"Zero","s":0.7,"m":"d","x":173,"y":86,"l":81,"h":91},
{"p":"Zero","s":0.7,"m":"d","x":180,"y":84,"l":79,"h":89},
{"p":"Zero","s":0.7,"m":"d","x":187,"y":82,"l":77,"h":87},
{"p":"Zero","s":0.7,"m":"d","x":193,"y":83,"l":78,"h":88},
{"p":"Zero","s":0.7,"m":"d","x":200,"y":79,"l":74,"h":84},
{"p":"Zero","s":0.6,"m":"d","x":13,"y":1},
{"p":"Zero","s":0.6,"m":"d","x":20,"y":15},
{"p":"Zero","s":0.6,"m":"d","x":27,"y":55},
{"p":"Zero","s":0.6,"m":"d","x":33,"y":75},
{"p":"Zero","s":0.6,"m":"d","x":40,"y":82},
{"p":"Zero","s":0.6,"m":"d","x":47,"y":88},
{"p":"Zero","s":0.6,"m":"d","x":53,"y":92},
{"p":"Zero","s":0.6,"m":"d","x":60,"y":95},
{"p":"Zero","s":0.6,"m":"d","x":73,"y":95},
{"p":"Zero","s":0.6,"m":"d","x":80,"y":94},
{"p":"Zero","s":0.6,"m":"d","x":93,"y":96},
{"p":"Zero","s":0.6,"m":"d","x":107,"y":95},
{"p":"Zero","s":0.6,"m":"d","x":120,"y":96},
{"p":"Zero","s":0.6,"m":"d","x":133,"y":95},
{"p":"Zero","s":0.6,"m":"d","x":147,"y":94},
{"p":"Zero","s":0.6,"m":"d","x":160,"y":95},
{"p":"Zero","s":0.6,"m":"d","x":173,"y":94},
{"p":"Zero","s":0.6,"m":"d","x":187,"y":97},
{"p":"Zero","s":0.6,"m":"d","x":200,"y":95},
{"p":"Zero","s":0.5,"m":"d","x":13,"y":1},
{"p":"Zero","s":0.5,"m":"d","x":20,"y":16},
{"p":"Zero","s":0.5,"m":"d","x":27,"y":58},
{"p":"Zero","s":0.5,"m":"d","x":33,"y":78},
{"p":"Zero","s":0.5,"m":"d","x":40,"y":84},
{"p":"Zero","s":0.5,"m":"d","x":47,"y":90},
{"p":"Zero","s":0.5,"m":"d","x":53,"y":95},
{"p":"Zero","s":0.5,"m":"d","x":60,"y":97},
{"p":"Zero","s":0.5,"m":"d","x":200,"y":98},
{"p":"Zero","s":0.3,"m":"s","x":13,"y":1},
{"p":"Zero","s":0.3,"m":"s","x":20,"y":20},
{"p":"Zero","s":0.3,"m":"s","x":27,"y":68},
{"p":"Zero","s":0.3,"m":"s","x":33,"y":82},
{"p":"Zero","s":0.3,"m":"s","x":40,"y":85},
{"p":"Zero","s":0.3,"m":"s","x":47,"y":93},
{"p":"Zero","s":0.3,"m":"s","x":53,"y":98},
{"p":"Zero","s":0.3,"m":"s","x":60,"y":98},
{"p":"Zero","s":0.3,"m":"s","x":73,"y":100},
{"p":"Zero","s":0.3,"m":"s","x":200,"y":100},
{"p":"Zero","s":0.2,"m":"s","x":13,"y":1,"l":0,"h":2},
{"p":"Zero","s":0.2,"m":"s","x":20,"y":20,"l":8,"h":40},
{"p":"Zero","s":0.2,"m":"s","x":27,"y":65,"l":45,"h":100},
{"p":"Zero","s":0.2,"m":"s","x":33,"y":80,"l":65,"h":100},
{"p":"Zero","s":0.2,"m":"s","x":40,"y":81,"l":66,"h":100},
{"p":"Zero","s":0.2,"m":"s","x":47,"y":90,"l":78,"h":100},
{"p":"Zero","s":0.2,"m":"s","x":53,"y":97,"l":92,"h":100},
{"p":"Zero","s":0.2,"m":"s","x":60,"y":100,"l":98,"h":100},
{"p":"Zero","s":0.2,"m":"s","x":67,"y":100,"l":99,"h":100},
{"p":"Zero","s":0.2,"m":"s","x":73,"y":97,"l":94,"h":100},
{"p":"Zero","s":0.2,"m":"s","x":80,"y":99,"l":97,"h":100},
{"p":"Zero","s":0.2,"m":"s","x":87,"y":100,"l":99,"h":100},
{"p":"Zero","s":0.2,"m":"s","x":200,"y":100,"l":99,"h":100},
{"p":"Zero","s":0.1,"m":"s","x":7,"y":2},
{"p":"Zero","s":0.1,"m":"s","x":13,"y":1},
{"p":"Zero","s":0.1,"m":"s","x":20,"y":20},
{"p":"Zero","s":0.1,"m":"s","x":27,"y":70,"l":55,"h":85},
{"p":"Zero","s":0.1,"m":"s","x":33,"y":82,"l":68,"h":92},
{"p":"Zero","s":0.1,"m":"s","x":40,"y":82,"l":66,"h":93},
{"p":"Zero","s":0.1,"m":"s","x":47,"y":83,"l":68,"h":95},
{"p":"Zero","s":0.1,"m":"s","x":53,"y":87,"l":72,"h":97},
{"p":"Zero","s":0.1,"m":"s","x":60,"y":87,"l":72,"h":98},
{"p":"Zero","s":0.1,"m":"s","x":67,"y":86,"l":72,"h":97},
{"p":"Zero","s":0.1,"m":"s","x":73,"y":87,"l":71,"h":97},
{"p":"Zero","s":0.1,"m":"s","x":80,"y":84,"l":70,"h":97},
{"p":"Zero","s":0.1,"m":"s","x":87,"y":87,"l":75,"h":97},
{"p":"Zero","s":0.1,"m":"s","x":93,"y":88,"l":78,"h":98},
{"p":"Zero","s":0.1,"m":"s","x":100,"y":90,"l":80,"h":98},
{"p":"Zero","s":0.1,"m":"s","x":107,"y":90,"l":84,"h":98},
{"p":"Zero","s":0.1,"m":"s","x":113,"y":94,"l":88,"h":99},
{"p":"Zero","s":0.1,"m":"s","x":120,"y":96,"l":92,"h":100},
{"p":"Zero","s":0.1,"m":"s","x":127,"y":100,"l":97,"h":100},
{"p":"Zero","s":0.1,"m":"s","x":133,"y":98,"l":96,"h":100},
{"p":"Zero","s":0.1,"m":"s","x":140,"y":100,"l":99,"h":100},
{"p":"Zero","s":0.1,"m":"s","x":200,"y":100,"l":99,"h":100}
]},
"facet":{"field":"p","type":"nominal","header":{"title":null,"labelExpr":"datum.value + 'Action'","labelFont":"Liberation Serif","labelFontSize":20,"labelColor":"#111","labelPadding":8}},
"columns":4,
"bounds":"flush",
"spacing":{"column":86,"row":70},
"resolve":{"axis":{"x":"independent","y":"independent"}},
"spec":{
"width":167,"height":189,
"layer":[
{"mark":{"type":"area","invalid":"filter"},
"encoding":{
"x":{"field":"x","type":"quantitative","scale":{"domain":[0,200],"nice":false,"zero":false},"axis":{"values":[0,50,100,150,200],"labelExpr":"datum.value % 100 === 0 ? (datum.value === 0 ? '0' : datum.value + 'K') : ''","tickOpacity":{"condition":{"test":"datum.value % 100 === 0","value":1},"value":0},"title":null,"labelPadding":5}},
"y":{"field":"l","type":"quantitative","scale":{"domain":[-5.5,105.5],"nice":false,"zero":false},"axis":{"values":[0,12.5,25,37.5,50,62.5,75,87.5,100],"labelExpr":"datum.value % 25 === 0 ? format(datum.value / 100, '.2f') : ''","tickOpacity":{"condition":{"test":"datum.value % 25 === 0","value":1},"value":0},"title":null,"labelPadding":7}},
"y2":{"field":"h"},
"color":{"field":"s","type":"nominal","scale":{"domain":[0.1,0.2,0.3,0.4,0.5,0.6,0.7,0.8,0.9],"range":["#0b3dff","#3aaf1e","#ff1414","#e1a90b","#d253e0","#1a8fab","#0c1a78","#1c7a12","#9b0a2b"]},
"condition":[{"test":"datum.p === 'Invert' || datum.p === 'Scale' || datum.p === 'Swap'","value":"#6b5a6f"},{"test":"datum.m === 's' && datum.s === 0.2","value":"#4c4870"}]},
"opacity":{"condition":{"test":"datum.p === 'Invert' || datum.p === 'Scale' || datum.p === 'Swap' || (datum.m === 's' && datum.s === 0.2)","value":0.92},"value":0.2},
"detail":{"field":"m"}
}},
{"transform":[{"filter":"datum.m === 'd'"}],
"mark":{"type":"line","strokeWidth":3.2,"strokeDash":[13,6],"strokeJoin":"round"},
"encoding":{
"x":{"field":"x","type":"quantitative"},
"y":{"field":"y","type":"quantitative"},
"color":{"field":"s","type":"nominal"}
}},
{"transform":[{"filter":"datum.m === 's'"}],
"mark":{"type":"line","strokeWidth":3.2,"strokeJoin":"round"},
"encoding":{
"x":{"field":"x","type":"quantitative"},
"y":{"field":"y","type":"quantitative"},
"color":{"field":"s","type":"nominal"}
}}
]
},
"config":{
"view":{"stroke":"#000","strokeWidth":1.3},
"axis":{"labelFont":"Liberation Serif","labelFontSize":19,"labelColor":"#111","tickColor":"#000","tickWidth":1.2,"tickSize":7,"domain":false,"gridColor":"#ebebeb","gridWidth":1.3,"labelOverlap":false,"labelFlush":false,"labelBound":false},
"legend":{"title":null,"orient":"none","legendX":62,"legendY":496,"direction":"horizontal","symbolType":"stroke","symbolSize":1024,"symbolStrokeWidth":3,"symbolOpacity":1,"symbolFillColor":"transparent","labelOffset":7,"columnPadding":17,"labelFont":"Liberation Serif","labelFontSize":19,"labelColor":"#111"}
}
}
